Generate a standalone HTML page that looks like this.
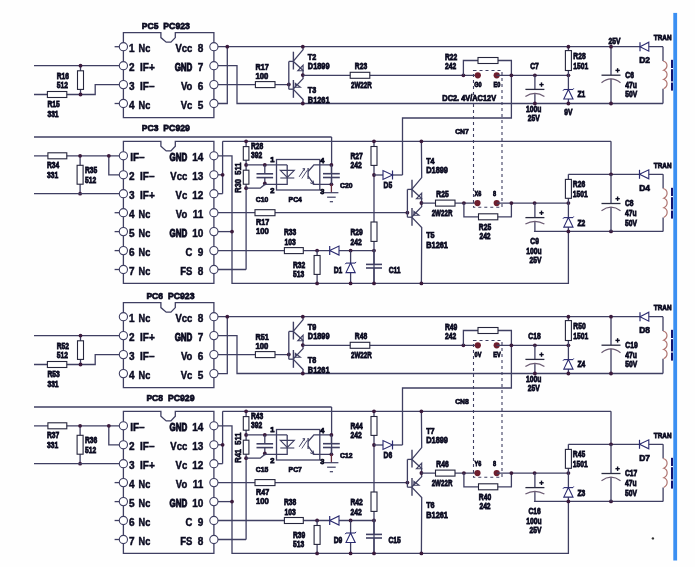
<!DOCTYPE html>
<html><head><meta charset="utf-8"><style>
html,body{margin:0;padding:0;background:#fff;}
svg{display:block;filter:blur(0.3px);}
text{font-family:"Liberation Sans", sans-serif;white-space:pre;}
</style></head><body>
<svg width="695" height="567" viewBox="0 0 695 567">
<rect width="695" height="567" fill="#fefefe"/>
<rect x="473.5" y="70.5" width="28.5" height="136.8" fill="none" stroke="#3f3f62" stroke-width="1.1" stroke-dasharray="3,3"/>
<rect x="473.5" y="340.5" width="28.5" height="136.8" fill="none" stroke="#3f3f62" stroke-width="1.1" stroke-dasharray="3,3"/>
<path d="M123.4,32.7 H160.9 V37.6 L166.2,42.2 H170.9 L175.3,37.6 V32.7 H213.9 V117.6 H123.4 Z" fill="none" stroke="#3f3f62" stroke-width="1.3"/>
<line x1="34.0" y1="65.7" x2="123.4" y2="65.7" stroke="#3f3f62" stroke-width="1.3" />
<line x1="80.5" y1="65.7" x2="80.5" y2="94.5" stroke="#3f3f62" stroke-width="1.3" />
<rect x="77.5" y="70.8" width="6.0" height="18.6" fill="#fff" stroke="#26263c" stroke-width="1.1"/>
<polyline points="34.0,94.5 95.2,94.5 95.2,84.6 123.4,84.6" stroke="#3f3f62" stroke-width="1.3" fill="none" stroke-linejoin="miter" />
<rect x="47.4" y="91.5" width="19.4" height="6.0" fill="#fff" stroke="#26263c" stroke-width="1.1"/>
<circle cx="80.5" cy="65.7" r="1.9" fill="#3a1a3c"/>
<circle cx="80.5" cy="94.5" r="1.9" fill="#3a1a3c"/>
<line x1="114.6" y1="46.7" x2="120.0" y2="46.7" stroke="#3f3f62" stroke-width="1.3" />
<line x1="114.6" y1="103.5" x2="120.0" y2="103.5" stroke="#3f3f62" stroke-width="1.3" />
<line x1="213.9" y1="46.7" x2="663.0" y2="46.7" stroke="#3f3f62" stroke-width="1.3" />
<polyline points="213.9,103.5 227.3,103.5 227.3,46.7" stroke="#3f3f62" stroke-width="1.3" fill="none" stroke-linejoin="miter" />
<circle cx="227.3" cy="46.7" r="1.9" fill="#3a1a3c"/>
<polyline points="213.9,65.7 237.0,65.7 237.0,103.5 663.0,103.5" stroke="#3f3f62" stroke-width="1.3" fill="none" stroke-linejoin="miter" />
<line x1="213.9" y1="84.6" x2="288.8" y2="84.6" stroke="#3f3f62" stroke-width="1.3" />
<rect x="255.4" y="81.6" width="19.6" height="6.0" fill="#fff" stroke="#26263c" stroke-width="1.1"/>
<circle cx="288.8" cy="84.5" r="1.9" fill="#3a1a3c"/>
<line x1="293.4" y1="51.7" x2="293.4" y2="69.5" stroke="#3f3f62" stroke-width="1.4" />
<line x1="288.8" y1="61.4" x2="293.4" y2="61.4" stroke="#3f3f62" stroke-width="1.3" />
<polyline points="293.4,61.2 303.1,49.6 302.8,46.7" stroke="#3f3f62" stroke-width="1.3" fill="none" stroke-linejoin="miter" />
<polyline points="293.4,61.6 303.1,70.6 302.8,75.1" stroke="#3f3f62" stroke-width="1.3" fill="none" stroke-linejoin="miter" />
<polygon points="303.1,65.2 303.1,70.8 297.8,70.8" stroke="#3f3f62" stroke-width="1.1" fill="none" stroke-linejoin="miter" />
<line x1="293.4" y1="80.0" x2="293.4" y2="97.8" stroke="#3f3f62" stroke-width="1.4" />
<line x1="288.8" y1="89.2" x2="293.4" y2="89.2" stroke="#3f3f62" stroke-width="1.3" />
<polyline points="302.8,75.1 303.1,78.6 293.4,88.8" stroke="#3f3f62" stroke-width="1.3" fill="none" stroke-linejoin="miter" />
<polygon points="295.3,83.4 295.3,87.2 300.4,87.2" stroke="#3f3f62" stroke-width="1.1" fill="none" stroke-linejoin="miter" />
<polyline points="293.4,89.4 303.1,99.5 302.8,103.5" stroke="#3f3f62" stroke-width="1.3" fill="none" stroke-linejoin="miter" />
<line x1="288.8" y1="61.4" x2="288.8" y2="89.2" stroke="#3f3f62" stroke-width="1.3" />
<circle cx="302.8" cy="46.7" r="1.9" fill="#3a1a3c"/>
<circle cx="302.8" cy="75.1" r="1.9" fill="#3a1a3c"/>
<circle cx="302.8" cy="103.5" r="1.9" fill="#3a1a3c"/>
<line x1="302.8" y1="75.3" x2="477.8" y2="75.3" stroke="#3f3f62" stroke-width="1.3" />
<rect x="350.2" y="72.3" width="19.6" height="6.0" fill="#fff" stroke="#26263c" stroke-width="1.1"/>
<circle cx="463.4" cy="75.3" r="1.9" fill="#3a1a3c"/>
<polyline points="463.4,75.3 463.4,60.5 511.4,60.5 511.4,118.0 402.5,118.0 402.5,175.0" stroke="#3f3f62" stroke-width="1.3" fill="none" stroke-linejoin="miter" />
<rect x="478.0" y="57.5" width="20.0" height="6.0" fill="#fff" stroke="#26263c" stroke-width="1.1"/>
<circle cx="477.8" cy="75.3" r="3.1" fill="#6e1e2e"/>
<circle cx="496.7" cy="75.3" r="3.1" fill="#6e1e2e"/>
<line x1="496.7" y1="75.3" x2="568.4" y2="75.3" stroke="#3f3f62" stroke-width="1.3" />
<circle cx="511.4" cy="75.3" r="1.9" fill="#3a1a3c"/>
<circle cx="534.9" cy="75.3" r="1.9" fill="#3a1a3c"/>
<circle cx="568.4" cy="75.3" r="1.9" fill="#3a1a3c"/>
<line x1="534.9" y1="75.3" x2="534.9" y2="89.4" stroke="#3f3f62" stroke-width="1.3" />
<line x1="534.9" y1="93.3" x2="534.9" y2="103.5" stroke="#3f3f62" stroke-width="1.3" />
<line x1="525.4" y1="89.4" x2="544.4" y2="89.4" stroke="#2a2a40" stroke-width="1.3" />
<path d="M525.4,96.5 Q534.9,90.1 544.4,96.5" stroke="#6a5a72" stroke-width="1.2" fill="none"/>
<line x1="539.3" y1="84.6" x2="543.7" y2="84.6" stroke="#0a0a20" stroke-width="1.4" />
<line x1="541.5" y1="82.4" x2="541.5" y2="86.8" stroke="#0a0a20" stroke-width="1.4" />
<circle cx="534.9" cy="103.5" r="1.9" fill="#3a1a3c"/>
<line x1="568.4" y1="46.7" x2="568.4" y2="103.5" stroke="#3f3f62" stroke-width="1.3" />
<rect x="565.4" y="50.6" width="6.0" height="19.9" fill="#fff" stroke="#26263c" stroke-width="1.1"/>
<circle cx="568.4" cy="46.7" r="1.9" fill="#3a1a3c"/>
<polygon points="563.8,99.0 573.0,99.0 568.4,89.5" stroke="#2b2b70" stroke-width="1.1" fill="#fff" stroke-linejoin="miter" />
<line x1="563.8" y1="89.5" x2="573.0" y2="89.5" stroke="#2b2b70" stroke-width="1.1" />
<line x1="563.8" y1="89.5" x2="563.0" y2="90.8" stroke="#2b2b70" stroke-width="1.0" />
<line x1="573.0" y1="89.5" x2="573.8" y2="88.3" stroke="#2b2b70" stroke-width="1.0" />
<circle cx="568.4" cy="103.5" r="1.9" fill="#3a1a3c"/>
<line x1="611.0" y1="46.7" x2="611.0" y2="75.2" stroke="#3f3f62" stroke-width="1.3" />
<line x1="611.0" y1="78.8" x2="611.0" y2="103.5" stroke="#3f3f62" stroke-width="1.3" />
<line x1="601.5" y1="75.2" x2="620.5" y2="75.2" stroke="#2a2a40" stroke-width="1.3" />
<path d="M601.5,82.7 Q611.0,74.9 620.5,82.7" stroke="#6a5a72" stroke-width="1.2" fill="none"/>
<line x1="615.4" y1="70.4" x2="619.8" y2="70.4" stroke="#0a0a20" stroke-width="1.4" />
<line x1="617.6" y1="68.2" x2="617.6" y2="72.6" stroke="#0a0a20" stroke-width="1.4" />
<circle cx="611.0" cy="46.7" r="1.9" fill="#3a1a3c"/>
<circle cx="611.0" cy="103.5" r="1.9" fill="#3a1a3c"/>
<polygon points="648.8,42.2 648.8,51.2 640.0,46.7" stroke="#2b2b70" stroke-width="1.1" fill="#fff" stroke-linejoin="miter" />
<line x1="640.0" y1="42.2" x2="640.0" y2="51.2" stroke="#2b2b70" stroke-width="1.2" />
<line x1="663.0" y1="46.7" x2="663.0" y2="61.0" stroke="#3f3f62" stroke-width="1.3" />
<line x1="663.0" y1="88.8" x2="663.0" y2="103.5" stroke="#3f3f62" stroke-width="1.3" />
<path d="M663.0,61.0 C668.2,62.4 668.2,68.0 663.6,70.3 C668.2,71.7 668.2,77.2 663.6,79.5 C668.2,80.9 668.2,86.5 663.6,88.8 " stroke="#b07470" stroke-width="1.2" fill="none"/>
<rect x="671.0" y="59.8" width="2.0" height="8.2" fill="#141470"/>
<rect x="671.0" y="69.2" width="2.0" height="12.2" fill="#141470"/>
<rect x="671.0" y="82.6" width="2.0" height="8.0" fill="#141470"/>
<text x="0" y="0" transform="translate(141.8 29.4) scale(0.9 1)" font-size="9.5" text-anchor="start" fill="#0a0a20" font-weight="bold" stroke="#0a0a20" stroke-width="0.75">PC5</text>
<text x="0" y="0" transform="translate(163.3 29.4) scale(0.92 1)" font-size="9.5" text-anchor="start" fill="#0a0a20" font-weight="bold" stroke="#0a0a20" stroke-width="0.75">PC923</text>
<text x="0" y="0" transform="translate(128.9 51.9) scale(1.0 1)" font-size="10" text-anchor="start" fill="#0a0a20" font-weight="bold" stroke="#0a0a20" stroke-width="0.45">1</text>
<text x="0" y="0" transform="translate(138.6 51.9) scale(0.92 1)" font-size="10" text-anchor="start" fill="#0a0a20" font-weight="bold" stroke="#0a0a20" stroke-width="0.45">Nc</text>
<text x="0" y="0" transform="translate(128.9 70.8) scale(1.0 1)" font-size="10" text-anchor="start" fill="#0a0a20" font-weight="bold" stroke="#0a0a20" stroke-width="0.45">2</text>
<text x="0" y="0" transform="translate(140.0 70.8) scale(1.0 1)" font-size="10" text-anchor="start" fill="#0a0a20" font-weight="bold" stroke="#0a0a20" stroke-width="0.45">IF+</text>
<text x="0" y="0" transform="translate(128.9 89.8) scale(1.0 1)" font-size="10" text-anchor="start" fill="#0a0a20" font-weight="bold" stroke="#0a0a20" stroke-width="0.45">3</text>
<text x="0" y="0" transform="translate(140.0 89.8) scale(1.0 1)" font-size="10" text-anchor="start" fill="#0a0a20" font-weight="bold" stroke="#0a0a20" stroke-width="0.45">IF&#8211;</text>
<text x="0" y="0" transform="translate(128.9 108.7) scale(1.0 1)" font-size="10" text-anchor="start" fill="#0a0a20" font-weight="bold" stroke="#0a0a20" stroke-width="0.45">4</text>
<text x="0" y="0" transform="translate(138.6 108.7) scale(0.92 1)" font-size="10" text-anchor="start" fill="#0a0a20" font-weight="bold" stroke="#0a0a20" stroke-width="0.45">Nc</text>
<text x="0" y="0" transform="translate(203.4 51.9) scale(1.0 1)" font-size="10" text-anchor="end" fill="#0a0a20" font-weight="bold" stroke="#0a0a20" stroke-width="0.45">8</text>
<text x="0" y="0" transform="translate(192.4 51.9) scale(0.95 1)" font-size="10" text-anchor="end" fill="#0a0a20" font-weight="bold" stroke="#0a0a20" stroke-width="0.45">Vcc</text>
<text x="0" y="0" transform="translate(203.4 70.8) scale(1.0 1)" font-size="10" text-anchor="end" fill="#0a0a20" font-weight="bold" stroke="#0a0a20" stroke-width="0.45">7</text>
<text x="0" y="0" transform="translate(192.4 70.8) scale(0.8 1)" font-size="10" text-anchor="end" fill="#0a0a20" font-weight="bold" stroke="#0a0a20" stroke-width="0.9">GND</text>
<text x="0" y="0" transform="translate(203.4 89.8) scale(1.0 1)" font-size="10" text-anchor="end" fill="#0a0a20" font-weight="bold" stroke="#0a0a20" stroke-width="0.45">6</text>
<text x="0" y="0" transform="translate(192.4 89.8) scale(0.95 1)" font-size="10" text-anchor="end" fill="#0a0a20" font-weight="bold" stroke="#0a0a20" stroke-width="0.45">Vo</text>
<text x="0" y="0" transform="translate(203.4 108.7) scale(1.0 1)" font-size="10" text-anchor="end" fill="#0a0a20" font-weight="bold" stroke="#0a0a20" stroke-width="0.45">5</text>
<text x="0" y="0" transform="translate(192.4 108.7) scale(0.95 1)" font-size="10" text-anchor="end" fill="#0a0a20" font-weight="bold" stroke="#0a0a20" stroke-width="0.45">Vc</text>
<text x="0" y="0" transform="translate(56.7 78.6) scale(0.82 1)" font-size="8.2" text-anchor="start" fill="#0a0a20" font-weight="bold" stroke="#0a0a20" stroke-width="0.75">R16</text>
<text x="0" y="0" transform="translate(56.7 88.1) scale(0.82 1)" font-size="8.2" text-anchor="start" fill="#0a0a20" font-weight="bold" stroke="#0a0a20" stroke-width="0.75">512</text>
<text x="0" y="0" transform="translate(47.4 106.8) scale(0.82 1)" font-size="8.2" text-anchor="start" fill="#0a0a20" font-weight="bold" stroke="#0a0a20" stroke-width="0.75">R15</text>
<text x="0" y="0" transform="translate(47.4 116.9) scale(0.82 1)" font-size="8.2" text-anchor="start" fill="#0a0a20" font-weight="bold" stroke="#0a0a20" stroke-width="0.75">331</text>
<text x="0" y="0" transform="translate(255.5 70.1) scale(0.85 1)" font-size="8.5" text-anchor="start" fill="#0a0a20" font-weight="bold" stroke="#0a0a20" stroke-width="0.75">R17</text>
<text x="0" y="0" transform="translate(255.5 78.9) scale(0.9 1)" font-size="8.5" text-anchor="start" fill="#0a0a20" font-weight="bold" stroke="#0a0a20" stroke-width="0.75">100</text>
<text x="0" y="0" transform="translate(307.8 59.9) scale(0.85 1)" font-size="8.5" text-anchor="start" fill="#0a0a20" font-weight="bold" stroke="#0a0a20" stroke-width="0.75">T2</text>
<text x="0" y="0" transform="translate(307.8 69.1) scale(0.87 1)" font-size="8.5" text-anchor="start" fill="#0a0a20" font-weight="bold" stroke="#0a0a20" stroke-width="0.75">D1899</text>
<text x="0" y="0" transform="translate(307.8 93.1) scale(0.85 1)" font-size="8.5" text-anchor="start" fill="#0a0a20" font-weight="bold" stroke="#0a0a20" stroke-width="0.75">T3</text>
<text x="0" y="0" transform="translate(307.8 102.9) scale(0.87 1)" font-size="8.5" text-anchor="start" fill="#0a0a20" font-weight="bold" stroke="#0a0a20" stroke-width="0.75">B1261</text>
<text x="0" y="0" transform="translate(361.0 69.0) scale(0.82 1)" font-size="8.2" text-anchor="middle" fill="#0a0a20" font-weight="bold" stroke="#0a0a20" stroke-width="0.75">R23</text>
<text x="0" y="0" transform="translate(361.3 88.0) scale(0.76 1)" font-size="8.2" text-anchor="middle" fill="#0a0a20" font-weight="bold" stroke="#0a0a20" stroke-width="0.75">2W22R</text>
<text x="0" y="0" transform="translate(445.0 59.7) scale(0.82 1)" font-size="8.2" text-anchor="start" fill="#0a0a20" font-weight="bold" stroke="#0a0a20" stroke-width="0.75">R22</text>
<text x="0" y="0" transform="translate(445.0 69.0) scale(0.82 1)" font-size="8.2" text-anchor="start" fill="#0a0a20" font-weight="bold" stroke="#0a0a20" stroke-width="0.75">242</text>
<text x="0" y="0" transform="translate(478.0 87.3) scale(0.8 1)" font-size="7" text-anchor="middle" fill="#0a0a20" font-weight="bold" stroke="#0a0a20" stroke-width="0.75">G0</text>
<text x="0" y="0" transform="translate(497.0 87.3) scale(0.8 1)" font-size="7" text-anchor="middle" fill="#0a0a20" font-weight="bold" stroke="#0a0a20" stroke-width="0.75">E0</text>
<text x="0" y="0" transform="translate(442.3 101.4) scale(0.88 1)" font-size="8.4" text-anchor="start" fill="#0a0a20" font-weight="bold" stroke="#0a0a20" stroke-width="0.75">DC2. 4V/AC12V</text>
<text x="0" y="0" transform="translate(534.5 68.6) scale(0.82 1)" font-size="8.2" text-anchor="middle" fill="#0a0a20" font-weight="bold" stroke="#0a0a20" stroke-width="0.75">C7</text>
<text x="0" y="0" transform="translate(533.7 111.8) scale(0.82 1)" font-size="8.2" text-anchor="middle" fill="#0a0a20" font-weight="bold" stroke="#0a0a20" stroke-width="0.75">100u</text>
<text x="0" y="0" transform="translate(533.7 121.4) scale(0.82 1)" font-size="8.2" text-anchor="middle" fill="#0a0a20" font-weight="bold" stroke="#0a0a20" stroke-width="0.75">25V</text>
<text x="0" y="0" transform="translate(573.3 59.0) scale(0.82 1)" font-size="8.2" text-anchor="start" fill="#0a0a20" font-weight="bold" stroke="#0a0a20" stroke-width="0.75">R28</text>
<text x="0" y="0" transform="translate(573.3 68.6) scale(0.82 1)" font-size="8.2" text-anchor="start" fill="#0a0a20" font-weight="bold" stroke="#0a0a20" stroke-width="0.75">1501</text>
<text x="0" y="0" transform="translate(577.5 97.3) scale(0.82 1)" font-size="8.2" text-anchor="start" fill="#0a0a20" font-weight="bold" stroke="#0a0a20" stroke-width="0.75">Z1</text>
<text x="0" y="0" transform="translate(568.4 115.0) scale(0.82 1)" font-size="8.2" text-anchor="middle" fill="#0a0a20" font-weight="bold" stroke="#0a0a20" stroke-width="0.75">9V</text>
<text x="0" y="0" transform="translate(614.4 44.2) scale(0.82 1)" font-size="8.2" text-anchor="middle" fill="#0a0a20" font-weight="bold" stroke="#0a0a20" stroke-width="0.75">25V</text>
<text x="0" y="0" transform="translate(625.3 78.2) scale(0.82 1)" font-size="8.2" text-anchor="start" fill="#0a0a20" font-weight="bold" stroke="#0a0a20" stroke-width="0.75">C6</text>
<text x="0" y="0" transform="translate(625.3 87.7) scale(0.82 1)" font-size="8.2" text-anchor="start" fill="#0a0a20" font-weight="bold" stroke="#0a0a20" stroke-width="0.75">47u</text>
<text x="0" y="0" transform="translate(625.3 97.3) scale(0.82 1)" font-size="8.2" text-anchor="start" fill="#0a0a20" font-weight="bold" stroke="#0a0a20" stroke-width="0.75">50V</text>
<text x="0" y="0" transform="translate(644.6 63.4) scale(0.88 1)" font-size="9.6" text-anchor="middle" fill="#0a0a20" font-weight="bold" stroke="#0a0a20" stroke-width="0.75">D2</text>
<text x="0" y="0" transform="translate(653.8 40.1) scale(0.84 1)" font-size="7.6" text-anchor="start" fill="#0a0a20" font-weight="bold" stroke="#0a0a20" stroke-width="0.75">TRAN</text>
<path d="M123.4,141.4 H160.9 V146.3 L166.2,150.9 H170.9 L175.3,146.3 V141.4 H213.9 V283.4 H123.4 Z" fill="none" stroke="#3f3f62" stroke-width="1.3"/>
<line x1="34.0" y1="137.0" x2="331.6" y2="137.0" stroke="#3f3f62" stroke-width="1.3" />
<line x1="331.6" y1="137.0" x2="331.6" y2="184.3" stroke="#3f3f62" stroke-width="1.3" />
<line x1="34.0" y1="155.8" x2="123.4" y2="155.8" stroke="#3f3f62" stroke-width="1.3" />
<rect x="47.9" y="152.8" width="18.9" height="6.0" fill="#fff" stroke="#26263c" stroke-width="1.1"/>
<line x1="80.1" y1="155.8" x2="80.1" y2="193.7" stroke="#3f3f62" stroke-width="1.3" />
<rect x="77.1" y="165.3" width="6.0" height="18.9" fill="#fff" stroke="#26263c" stroke-width="1.1"/>
<circle cx="80.1" cy="155.8" r="1.9" fill="#3a1a3c"/>
<circle cx="80.1" cy="193.7" r="1.9" fill="#3a1a3c"/>
<polyline points="108.8,155.8 108.8,174.8 123.4,174.8" stroke="#3f3f62" stroke-width="1.3" fill="none" stroke-linejoin="miter" />
<circle cx="108.8" cy="155.8" r="1.9" fill="#3a1a3c"/>
<line x1="34.0" y1="193.7" x2="123.4" y2="193.7" stroke="#3f3f62" stroke-width="1.3" />
<line x1="114.6" y1="212.7" x2="120.0" y2="212.7" stroke="#3f3f62" stroke-width="1.3" />
<line x1="114.6" y1="231.6" x2="120.0" y2="231.6" stroke="#3f3f62" stroke-width="1.3" />
<line x1="114.6" y1="250.6" x2="120.0" y2="250.6" stroke="#3f3f62" stroke-width="1.3" />
<line x1="114.6" y1="269.5" x2="120.0" y2="269.5" stroke="#3f3f62" stroke-width="1.3" />
<polyline points="213.9,155.8 232.0,155.8 232.0,283.4 568.4,283.4 568.4,231.4" stroke="#3f3f62" stroke-width="1.3" fill="none" stroke-linejoin="miter" />
<line x1="213.9" y1="231.6" x2="232.0" y2="231.6" stroke="#3f3f62" stroke-width="1.3" />
<circle cx="232.0" cy="231.6" r="1.9" fill="#3a1a3c"/>
<line x1="222.6" y1="141.3" x2="222.6" y2="193.7" stroke="#3f3f62" stroke-width="1.3" />
<line x1="213.9" y1="174.8" x2="222.6" y2="174.8" stroke="#3f3f62" stroke-width="1.3" />
<circle cx="222.6" cy="174.8" r="1.9" fill="#3a1a3c"/>
<line x1="213.9" y1="193.7" x2="222.6" y2="193.7" stroke="#3f3f62" stroke-width="1.3" />
<line x1="222.6" y1="141.3" x2="611.0" y2="141.3" stroke="#3f3f62" stroke-width="1.3" />
<line x1="611.0" y1="141.3" x2="611.0" y2="174.3" stroke="#3f3f62" stroke-width="1.3" />
<line x1="246.1" y1="141.3" x2="246.1" y2="269.5" stroke="#3f3f62" stroke-width="1.3" />
<line x1="213.9" y1="269.5" x2="246.1" y2="269.5" stroke="#3f3f62" stroke-width="1.3" />
<rect x="243.3" y="146.6" width="5.6" height="13.6" fill="#fff" stroke="#26263c" stroke-width="1.1"/>
<rect x="243.3" y="170.2" width="5.6" height="14.0" fill="#fff" stroke="#26263c" stroke-width="1.1"/>
<circle cx="246.1" cy="141.3" r="1.9" fill="#3a1a3c"/>
<circle cx="246.1" cy="164.9" r="1.9" fill="#3a1a3c"/>
<circle cx="246.1" cy="188.2" r="1.9" fill="#3a1a3c"/>
<line x1="246.1" y1="164.9" x2="287.2" y2="164.9" stroke="#3f3f62" stroke-width="1.3" />
<circle cx="264.8" cy="164.9" r="1.9" fill="#3a1a3c"/>
<line x1="264.8" y1="164.9" x2="264.8" y2="173.8" stroke="#3f3f62" stroke-width="1.3" />
<line x1="264.8" y1="177.6" x2="264.8" y2="183.4" stroke="#3f3f62" stroke-width="1.3" />
<line x1="256.5" y1="173.8" x2="273.1" y2="173.8" stroke="#3f3f62" stroke-width="1.6" />
<line x1="256.5" y1="177.6" x2="273.1" y2="177.6" stroke="#3f3f62" stroke-width="1.6" />
<circle cx="264.8" cy="183.4" r="1.9" fill="#3a1a3c"/>
<polyline points="246.1,188.2 260.2,188.2 264.8,184.4 287.2,184.4 287.2,164.9" stroke="#3f3f62" stroke-width="1.3" fill="none" stroke-linejoin="miter" />
<rect x="276.5" y="159.5" width="43.3" height="30.5" fill="none" stroke="#3f3f62" stroke-width="1.3"/>
<polygon points="280.3,170.4 294.3,170.4 287.3,177.4" stroke="#3f3f62" stroke-width="1.1" fill="none" stroke-linejoin="miter" />
<line x1="280.3" y1="178.0" x2="294.3" y2="178.0" stroke="#3f3f62" stroke-width="1.1" />
<line x1="299.2" y1="176.8" x2="304.6" y2="168.6" stroke="#3f3f62" stroke-width="1.0" />
<line x1="301.8" y1="178.5" x2="307.2" y2="170.3" stroke="#3f3f62" stroke-width="0.9" />
<polyline points="302.6,168.8 304.6,168.6 304.3,170.6" stroke="#3f3f62" stroke-width="1.0" fill="none" stroke-linejoin="miter" />
<line x1="308.1" y1="168.1" x2="308.1" y2="179.1" stroke="#3f3f62" stroke-width="1.3" />
<polyline points="308.1,171.5 313.9,164.9 331.4,164.9" stroke="#3f3f62" stroke-width="1.3" fill="none" stroke-linejoin="miter" />
<polyline points="308.1,176.0 313.9,184.3 331.4,184.3" stroke="#3f3f62" stroke-width="1.3" fill="none" stroke-linejoin="miter" />
<polyline points="310.2,182.8 313.9,184.3 313.1,180.5" stroke="#3f3f62" stroke-width="1.0" fill="none" stroke-linejoin="miter" />
<circle cx="331.4" cy="164.9" r="1.9" fill="#3a1a3c"/>
<circle cx="331.4" cy="184.3" r="1.9" fill="#3a1a3c"/>
<line x1="331.4" y1="164.9" x2="331.4" y2="173.7" stroke="#3f3f62" stroke-width="1.3" />
<line x1="331.4" y1="177.5" x2="331.4" y2="184.3" stroke="#3f3f62" stroke-width="1.3" />
<line x1="323.0" y1="173.7" x2="339.8" y2="173.7" stroke="#3f3f62" stroke-width="1.6" />
<line x1="323.0" y1="177.5" x2="339.8" y2="177.5" stroke="#3f3f62" stroke-width="1.6" />
<line x1="331.4" y1="184.3" x2="331.4" y2="192.7" stroke="#6a3040" stroke-width="1.3" />
<line x1="324.4" y1="192.7" x2="338.4" y2="192.7" stroke="#3f3f62" stroke-width="1.2" />
<line x1="327.1" y1="197.2" x2="335.7" y2="197.2" stroke="#3f3f62" stroke-width="1.2" />
<line x1="329.8" y1="201.7" x2="333.0" y2="201.7" stroke="#3f3f62" stroke-width="1.2" />
<line x1="213.9" y1="212.7" x2="407.4" y2="212.7" stroke="#3f3f62" stroke-width="1.3" />
<rect x="255.0" y="209.7" width="20.0" height="6.0" fill="#fff" stroke="#26263c" stroke-width="1.1"/>
<circle cx="407.4" cy="212.7" r="1.9" fill="#3a1a3c"/>
<line x1="213.9" y1="250.6" x2="374.0" y2="250.6" stroke="#3f3f62" stroke-width="1.3" />
<rect x="284.4" y="247.6" width="18.9" height="6.0" fill="#fff" stroke="#26263c" stroke-width="1.1"/>
<circle cx="317.1" cy="250.6" r="1.9" fill="#3a1a3c"/>
<circle cx="350.6" cy="250.6" r="1.9" fill="#3a1a3c"/>
<circle cx="374.0" cy="250.6" r="1.9" fill="#3a1a3c"/>
<polygon points="339.0,246.1 339.0,255.1 329.7,250.6" stroke="#2b2b70" stroke-width="1.1" fill="#fff" stroke-linejoin="miter" />
<line x1="329.7" y1="246.1" x2="329.7" y2="255.1" stroke="#2b2b70" stroke-width="1.2" />
<line x1="317.1" y1="250.6" x2="317.1" y2="283.4" stroke="#3f3f62" stroke-width="1.3" />
<rect x="314.1" y="255.5" width="6.0" height="18.9" fill="#fff" stroke="#26263c" stroke-width="1.1"/>
<line x1="350.6" y1="250.6" x2="350.6" y2="283.4" stroke="#3f3f62" stroke-width="1.3" />
<polygon points="346.0,272.6 355.2,272.6 350.6,263.1" stroke="#2b2b70" stroke-width="1.1" fill="#fff" stroke-linejoin="miter" />
<line x1="346.0" y1="263.1" x2="355.2" y2="263.1" stroke="#2b2b70" stroke-width="1.1" />
<line x1="346.0" y1="263.1" x2="345.2" y2="264.2" stroke="#2b2b70" stroke-width="1.0" />
<line x1="355.2" y1="263.1" x2="356.0" y2="261.9" stroke="#2b2b70" stroke-width="1.0" />
<circle cx="317.1" cy="283.4" r="1.9" fill="#3a1a3c"/>
<circle cx="350.6" cy="283.4" r="1.9" fill="#3a1a3c"/>
<line x1="374.0" y1="141.3" x2="374.0" y2="283.4" stroke="#3f3f62" stroke-width="1.3" />
<rect x="371.0" y="146.5" width="6.0" height="18.9" fill="#fff" stroke="#26263c" stroke-width="1.1"/>
<rect x="371.0" y="222.0" width="6.0" height="19.4" fill="#fff" stroke="#26263c" stroke-width="1.1"/>
<line x1="374.0" y1="250.1" x2="374.0" y2="264.4" stroke="#3f3f62" stroke-width="1.3" />
<line x1="374.0" y1="268.0" x2="374.0" y2="283.4" stroke="#3f3f62" stroke-width="1.3" />
<line x1="366.0" y1="264.4" x2="382.0" y2="264.4" stroke="#3f3f62" stroke-width="1.6" />
<line x1="366.0" y1="268.0" x2="382.0" y2="268.0" stroke="#3f3f62" stroke-width="1.6" />
<circle cx="374.0" cy="141.3" r="1.9" fill="#3a1a3c"/>
<circle cx="374.0" cy="175.0" r="1.9" fill="#3a1a3c"/>
<circle cx="374.0" cy="283.4" r="1.9" fill="#3a1a3c"/>
<polyline points="374.0,175.0 402.5,175.0" stroke="#3f3f62" stroke-width="1.3" fill="none" stroke-linejoin="miter" />
<polygon points="383.0,170.5 383.0,179.5 392.5,175.0" stroke="#2b2b70" stroke-width="1.1" fill="#fff" stroke-linejoin="miter" />
<line x1="392.5" y1="170.5" x2="392.5" y2="179.5" stroke="#2b2b70" stroke-width="1.2" />
<line x1="412.0" y1="179.7" x2="412.0" y2="197.5" stroke="#3f3f62" stroke-width="1.4" />
<line x1="407.4" y1="189.4" x2="412.0" y2="189.4" stroke="#3f3f62" stroke-width="1.3" />
<polyline points="412.0,189.2 421.7,177.6 421.4,141.3" stroke="#3f3f62" stroke-width="1.3" fill="none" stroke-linejoin="miter" />
<polyline points="412.0,189.6 421.7,198.6 421.4,203.1" stroke="#3f3f62" stroke-width="1.3" fill="none" stroke-linejoin="miter" />
<polygon points="421.7,193.2 421.7,198.8 416.4,198.8" stroke="#3f3f62" stroke-width="1.1" fill="none" stroke-linejoin="miter" />
<line x1="412.0" y1="208.0" x2="412.0" y2="225.8" stroke="#3f3f62" stroke-width="1.4" />
<line x1="407.4" y1="217.2" x2="412.0" y2="217.2" stroke="#3f3f62" stroke-width="1.3" />
<polyline points="421.4,203.1 421.7,206.6 412.0,216.8" stroke="#3f3f62" stroke-width="1.3" fill="none" stroke-linejoin="miter" />
<polygon points="413.9,211.4 413.9,215.2 419.0,215.2" stroke="#3f3f62" stroke-width="1.1" fill="none" stroke-linejoin="miter" />
<polyline points="412.0,217.4 421.7,227.5 421.4,283.4" stroke="#3f3f62" stroke-width="1.3" fill="none" stroke-linejoin="miter" />
<line x1="407.4" y1="189.4" x2="407.4" y2="217.2" stroke="#3f3f62" stroke-width="1.3" />
<circle cx="421.4" cy="141.3" r="1.9" fill="#3a1a3c"/>
<circle cx="421.4" cy="203.0" r="1.9" fill="#3a1a3c"/>
<circle cx="421.4" cy="283.4" r="1.9" fill="#3a1a3c"/>
<line x1="421.4" y1="203.1" x2="477.5" y2="203.1" stroke="#3f3f62" stroke-width="1.3" />
<rect x="435.5" y="200.1" width="19.5" height="6.0" fill="#fff" stroke="#26263c" stroke-width="1.1"/>
<circle cx="463.9" cy="203.1" r="1.9" fill="#3a1a3c"/>
<polyline points="463.9,203.1 463.9,216.8 511.4,216.8 511.4,203.1" stroke="#3f3f62" stroke-width="1.3" fill="none" stroke-linejoin="miter" />
<rect x="478.5" y="213.8" width="19.3" height="6.0" fill="#fff" stroke="#26263c" stroke-width="1.1"/>
<circle cx="477.5" cy="203.1" r="3.1" fill="#6e1e2e"/>
<circle cx="496.7" cy="203.1" r="3.1" fill="#6e1e2e"/>
<line x1="496.7" y1="203.1" x2="568.4" y2="203.1" stroke="#3f3f62" stroke-width="1.3" />
<circle cx="511.4" cy="203.1" r="1.9" fill="#3a1a3c"/>
<circle cx="534.6" cy="203.1" r="1.9" fill="#3a1a3c"/>
<circle cx="568.4" cy="203.1" r="1.9" fill="#3a1a3c"/>
<line x1="534.9" y1="203.1" x2="534.9" y2="217.6" stroke="#3f3f62" stroke-width="1.3" />
<line x1="534.9" y1="221.3" x2="534.9" y2="231.4" stroke="#3f3f62" stroke-width="1.3" />
<line x1="525.4" y1="217.6" x2="544.4" y2="217.6" stroke="#2a2a40" stroke-width="1.3" />
<path d="M525.4,224.1 Q534.9,218.5 544.4,224.1" stroke="#6a5a72" stroke-width="1.2" fill="none"/>
<line x1="539.3" y1="212.8" x2="543.7" y2="212.8" stroke="#0a0a20" stroke-width="1.4" />
<line x1="541.5" y1="210.6" x2="541.5" y2="215.0" stroke="#0a0a20" stroke-width="1.4" />
<polyline points="534.6,231.0 534.6,231.4 663.1,231.4" stroke="#3f3f62" stroke-width="1.3" fill="none" stroke-linejoin="miter" />
<line x1="568.4" y1="174.3" x2="568.4" y2="231.4" stroke="#3f3f62" stroke-width="1.3" />
<rect x="565.4" y="179.4" width="6.0" height="18.9" fill="#fff" stroke="#26263c" stroke-width="1.1"/>
<polygon points="563.8,227.1 573.0,227.1 568.4,217.6" stroke="#2b2b70" stroke-width="1.1" fill="#fff" stroke-linejoin="miter" />
<line x1="563.8" y1="217.6" x2="573.0" y2="217.6" stroke="#2b2b70" stroke-width="1.1" />
<line x1="563.8" y1="217.6" x2="563.0" y2="218.8" stroke="#2b2b70" stroke-width="1.0" />
<line x1="573.0" y1="217.6" x2="573.8" y2="216.4" stroke="#2b2b70" stroke-width="1.0" />
<circle cx="568.4" cy="231.4" r="1.9" fill="#3a1a3c"/>
<line x1="568.4" y1="174.3" x2="663.1" y2="174.3" stroke="#3f3f62" stroke-width="1.3" />
<circle cx="611.0" cy="174.3" r="1.9" fill="#3a1a3c"/>
<circle cx="611.0" cy="231.4" r="1.9" fill="#3a1a3c"/>
<line x1="611.0" y1="174.3" x2="611.0" y2="203.5" stroke="#3f3f62" stroke-width="1.3" />
<line x1="611.0" y1="207.1" x2="611.0" y2="231.4" stroke="#3f3f62" stroke-width="1.3" />
<line x1="601.5" y1="203.5" x2="620.5" y2="203.5" stroke="#2a2a40" stroke-width="1.3" />
<path d="M601.5,210.7 Q611.0,203.5 620.5,210.7" stroke="#6a5a72" stroke-width="1.2" fill="none"/>
<line x1="615.4" y1="198.7" x2="619.8" y2="198.7" stroke="#0a0a20" stroke-width="1.4" />
<line x1="617.6" y1="196.5" x2="617.6" y2="200.9" stroke="#0a0a20" stroke-width="1.4" />
<polygon points="648.8,169.8 648.8,178.8 639.5,174.3" stroke="#2b2b70" stroke-width="1.1" fill="#fff" stroke-linejoin="miter" />
<line x1="639.5" y1="169.8" x2="639.5" y2="178.8" stroke="#2b2b70" stroke-width="1.2" />
<line x1="663.1" y1="174.3" x2="663.1" y2="188.5" stroke="#3f3f62" stroke-width="1.3" />
<line x1="663.1" y1="217.5" x2="663.1" y2="231.4" stroke="#3f3f62" stroke-width="1.3" />
<path d="M663.1,188.5 C668.3,189.9 668.3,195.8 663.7,198.2 C668.3,199.6 668.3,205.4 663.7,207.8 C668.3,209.3 668.3,215.1 663.7,217.5 " stroke="#b07470" stroke-width="1.2" fill="none"/>
<rect x="671.0" y="187.8" width="2.0" height="8.2" fill="#141470"/>
<rect x="671.0" y="197.2" width="2.0" height="12.2" fill="#141470"/>
<rect x="671.0" y="210.6" width="2.0" height="8.0" fill="#141470"/>
<text x="0" y="0" transform="translate(141.8 130.7) scale(0.9 1)" font-size="9.5" text-anchor="start" fill="#0a0a20" font-weight="bold" stroke="#0a0a20" stroke-width="0.75">PC3</text>
<text x="0" y="0" transform="translate(163.3 130.7) scale(0.92 1)" font-size="9.5" text-anchor="start" fill="#0a0a20" font-weight="bold" stroke="#0a0a20" stroke-width="0.75">PC929</text>
<text x="0" y="0" transform="translate(130.2 161.0) scale(1.0 1)" font-size="10" text-anchor="start" fill="#0a0a20" font-weight="bold" stroke="#0a0a20" stroke-width="0.45">IF&#8211;</text>
<text x="0" y="0" transform="translate(128.9 179.9) scale(1.0 1)" font-size="10" text-anchor="start" fill="#0a0a20" font-weight="bold" stroke="#0a0a20" stroke-width="0.45">2</text>
<text x="0" y="0" transform="translate(140.0 179.9) scale(1.0 1)" font-size="10" text-anchor="start" fill="#0a0a20" font-weight="bold" stroke="#0a0a20" stroke-width="0.45">IF&#8211;</text>
<text x="0" y="0" transform="translate(128.9 198.9) scale(1.0 1)" font-size="10" text-anchor="start" fill="#0a0a20" font-weight="bold" stroke="#0a0a20" stroke-width="0.45">3</text>
<text x="0" y="0" transform="translate(140.0 198.9) scale(1.0 1)" font-size="10" text-anchor="start" fill="#0a0a20" font-weight="bold" stroke="#0a0a20" stroke-width="0.45">IF+</text>
<text x="0" y="0" transform="translate(128.9 217.8) scale(1.0 1)" font-size="10" text-anchor="start" fill="#0a0a20" font-weight="bold" stroke="#0a0a20" stroke-width="0.45">4</text>
<text x="0" y="0" transform="translate(138.6 217.8) scale(0.92 1)" font-size="10" text-anchor="start" fill="#0a0a20" font-weight="bold" stroke="#0a0a20" stroke-width="0.45">Nc</text>
<text x="0" y="0" transform="translate(128.9 236.8) scale(1.0 1)" font-size="10" text-anchor="start" fill="#0a0a20" font-weight="bold" stroke="#0a0a20" stroke-width="0.45">5</text>
<text x="0" y="0" transform="translate(138.6 236.8) scale(0.92 1)" font-size="10" text-anchor="start" fill="#0a0a20" font-weight="bold" stroke="#0a0a20" stroke-width="0.45">Nc</text>
<text x="0" y="0" transform="translate(128.9 255.8) scale(1.0 1)" font-size="10" text-anchor="start" fill="#0a0a20" font-weight="bold" stroke="#0a0a20" stroke-width="0.45">6</text>
<text x="0" y="0" transform="translate(138.6 255.8) scale(0.92 1)" font-size="10" text-anchor="start" fill="#0a0a20" font-weight="bold" stroke="#0a0a20" stroke-width="0.45">Nc</text>
<text x="0" y="0" transform="translate(128.9 274.7) scale(1.0 1)" font-size="10" text-anchor="start" fill="#0a0a20" font-weight="bold" stroke="#0a0a20" stroke-width="0.45">7</text>
<text x="0" y="0" transform="translate(138.6 274.7) scale(0.92 1)" font-size="10" text-anchor="start" fill="#0a0a20" font-weight="bold" stroke="#0a0a20" stroke-width="0.45">Nc</text>
<text x="0" y="0" transform="translate(203.4 161.0) scale(1.0 1)" font-size="10" text-anchor="end" fill="#0a0a20" font-weight="bold" stroke="#0a0a20" stroke-width="0.45">14</text>
<text x="0" y="0" transform="translate(187.2 161.0) scale(0.8 1)" font-size="10" text-anchor="end" fill="#0a0a20" font-weight="bold" stroke="#0a0a20" stroke-width="0.9">GND</text>
<text x="0" y="0" transform="translate(203.4 179.9) scale(1.0 1)" font-size="10" text-anchor="end" fill="#0a0a20" font-weight="bold" stroke="#0a0a20" stroke-width="0.45">13</text>
<text x="0" y="0" transform="translate(187.2 179.9) scale(0.95 1)" font-size="10" text-anchor="end" fill="#0a0a20" font-weight="bold" stroke="#0a0a20" stroke-width="0.45">Vcc</text>
<text x="0" y="0" transform="translate(203.4 198.9) scale(1.0 1)" font-size="10" text-anchor="end" fill="#0a0a20" font-weight="bold" stroke="#0a0a20" stroke-width="0.45">12</text>
<text x="0" y="0" transform="translate(187.2 198.9) scale(0.95 1)" font-size="10" text-anchor="end" fill="#0a0a20" font-weight="bold" stroke="#0a0a20" stroke-width="0.45">Vc</text>
<text x="0" y="0" transform="translate(203.4 217.8) scale(1.0 1)" font-size="10" text-anchor="end" fill="#0a0a20" font-weight="bold" stroke="#0a0a20" stroke-width="0.45">11</text>
<text x="0" y="0" transform="translate(187.2 217.8) scale(0.95 1)" font-size="10" text-anchor="end" fill="#0a0a20" font-weight="bold" stroke="#0a0a20" stroke-width="0.45">Vo</text>
<text x="0" y="0" transform="translate(203.4 236.8) scale(1.0 1)" font-size="10" text-anchor="end" fill="#0a0a20" font-weight="bold" stroke="#0a0a20" stroke-width="0.45">10</text>
<text x="0" y="0" transform="translate(187.2 236.8) scale(0.8 1)" font-size="10" text-anchor="end" fill="#0a0a20" font-weight="bold" stroke="#0a0a20" stroke-width="0.9">GND</text>
<text x="0" y="0" transform="translate(203.4 255.8) scale(1.0 1)" font-size="10" text-anchor="end" fill="#0a0a20" font-weight="bold" stroke="#0a0a20" stroke-width="0.45">9</text>
<text x="0" y="0" transform="translate(192.4 255.8) scale(0.95 1)" font-size="10" text-anchor="end" fill="#0a0a20" font-weight="bold" stroke="#0a0a20" stroke-width="0.45">C</text>
<text x="0" y="0" transform="translate(203.4 274.7) scale(1.0 1)" font-size="10" text-anchor="end" fill="#0a0a20" font-weight="bold" stroke="#0a0a20" stroke-width="0.45">8</text>
<text x="0" y="0" transform="translate(192.4 274.7) scale(0.95 1)" font-size="10" text-anchor="end" fill="#0a0a20" font-weight="bold" stroke="#0a0a20" stroke-width="0.45">FS</text>
<text x="0" y="0" transform="translate(47.0 168.3) scale(0.82 1)" font-size="8.2" text-anchor="start" fill="#0a0a20" font-weight="bold" stroke="#0a0a20" stroke-width="0.75">R34</text>
<text x="0" y="0" transform="translate(47.0 178.0) scale(0.82 1)" font-size="8.2" text-anchor="start" fill="#0a0a20" font-weight="bold" stroke="#0a0a20" stroke-width="0.75">331</text>
<text x="0" y="0" transform="translate(85.0 173.4) scale(0.82 1)" font-size="8.2" text-anchor="start" fill="#0a0a20" font-weight="bold" stroke="#0a0a20" stroke-width="0.75">R35</text>
<text x="0" y="0" transform="translate(85.0 183.0) scale(0.82 1)" font-size="8.2" text-anchor="start" fill="#0a0a20" font-weight="bold" stroke="#0a0a20" stroke-width="0.75">512</text>
<text x="0" y="0" transform="translate(251.0 149.4) scale(0.82 1)" font-size="8.2" text-anchor="start" fill="#0a0a20" font-weight="bold" stroke="#0a0a20" stroke-width="0.75">R28</text>
<text x="0" y="0" transform="translate(251.0 158.3) scale(0.82 1)" font-size="8.2" text-anchor="start" fill="#0a0a20" font-weight="bold" stroke="#0a0a20" stroke-width="0.75">392</text>
<text transform="translate(240.9 192.8) rotate(-90) scale(0.9 1)" font-size="8.4" fill="#0a0a20" font-weight="bold" stroke="#0a0a20" stroke-width="0.6">R30  511</text>
<text x="0" y="0" transform="translate(272.3 162.3) scale(1.0 1)" font-size="7.5" text-anchor="middle" fill="#0a0a20" font-weight="bold" stroke="#0a0a20" stroke-width="0.75">1</text>
<text x="0" y="0" transform="translate(272.3 192.5) scale(1.0 1)" font-size="7.5" text-anchor="middle" fill="#0a0a20" font-weight="bold" stroke="#0a0a20" stroke-width="0.75">2</text>
<text x="0" y="0" transform="translate(322.4 163.1) scale(1.0 1)" font-size="7.5" text-anchor="middle" fill="#0a0a20" font-weight="bold" stroke="#0a0a20" stroke-width="0.75">4</text>
<text x="0" y="0" transform="translate(322.4 193.5) scale(1.0 1)" font-size="7.5" text-anchor="middle" fill="#0a0a20" font-weight="bold" stroke="#0a0a20" stroke-width="0.75">3</text>
<text x="0" y="0" transform="translate(262.0 201.9) scale(0.85 1)" font-size="8" text-anchor="middle" fill="#0a0a20" font-weight="bold" stroke="#0a0a20" stroke-width="0.75">C10</text>
<text x="0" y="0" transform="translate(295.2 201.9) scale(0.85 1)" font-size="8" text-anchor="middle" fill="#0a0a20" font-weight="bold" stroke="#0a0a20" stroke-width="0.75">PC4</text>
<text x="0" y="0" transform="translate(340.0 187.5) scale(0.85 1)" font-size="8" text-anchor="start" fill="#0a0a20" font-weight="bold" stroke="#0a0a20" stroke-width="0.75">C20</text>
<text x="0" y="0" transform="translate(256.0 225.3) scale(0.85 1)" font-size="8.5" text-anchor="start" fill="#0a0a20" font-weight="bold" stroke="#0a0a20" stroke-width="0.75">R17</text>
<text x="0" y="0" transform="translate(256.0 234.1) scale(0.9 1)" font-size="8.5" text-anchor="start" fill="#0a0a20" font-weight="bold" stroke="#0a0a20" stroke-width="0.75">100</text>
<text x="0" y="0" transform="translate(284.0 234.6) scale(0.82 1)" font-size="8.2" text-anchor="start" fill="#0a0a20" font-weight="bold" stroke="#0a0a20" stroke-width="0.75">R33</text>
<text x="0" y="0" transform="translate(284.5 244.6) scale(0.82 1)" font-size="8.2" text-anchor="start" fill="#0a0a20" font-weight="bold" stroke="#0a0a20" stroke-width="0.75">103</text>
<text x="0" y="0" transform="translate(293.0 268.0) scale(0.82 1)" font-size="8.2" text-anchor="start" fill="#0a0a20" font-weight="bold" stroke="#0a0a20" stroke-width="0.75">R32</text>
<text x="0" y="0" transform="translate(293.0 276.9) scale(0.82 1)" font-size="8.2" text-anchor="start" fill="#0a0a20" font-weight="bold" stroke="#0a0a20" stroke-width="0.75">513</text>
<text x="0" y="0" transform="translate(338.0 273.0) scale(0.82 1)" font-size="8.2" text-anchor="middle" fill="#0a0a20" font-weight="bold" stroke="#0a0a20" stroke-width="0.75">D1</text>
<text x="0" y="0" transform="translate(350.5 234.6) scale(0.82 1)" font-size="8.2" text-anchor="start" fill="#0a0a20" font-weight="bold" stroke="#0a0a20" stroke-width="0.75">R29</text>
<text x="0" y="0" transform="translate(350.5 244.6) scale(0.82 1)" font-size="8.2" text-anchor="start" fill="#0a0a20" font-weight="bold" stroke="#0a0a20" stroke-width="0.75">242</text>
<text x="0" y="0" transform="translate(350.5 158.8) scale(0.82 1)" font-size="8.2" text-anchor="start" fill="#0a0a20" font-weight="bold" stroke="#0a0a20" stroke-width="0.75">R27</text>
<text x="0" y="0" transform="translate(350.5 168.0) scale(0.82 1)" font-size="8.2" text-anchor="start" fill="#0a0a20" font-weight="bold" stroke="#0a0a20" stroke-width="0.75">242</text>
<text x="0" y="0" transform="translate(387.9 187.8) scale(0.82 1)" font-size="8.2" text-anchor="middle" fill="#0a0a20" font-weight="bold" stroke="#0a0a20" stroke-width="0.75">D5</text>
<text x="0" y="0" transform="translate(394.6 272.6) scale(0.82 1)" font-size="8.2" text-anchor="middle" fill="#0a0a20" font-weight="bold" stroke="#0a0a20" stroke-width="0.75">C11</text>
<text x="0" y="0" transform="translate(426.2 163.5) scale(0.85 1)" font-size="8.5" text-anchor="start" fill="#0a0a20" font-weight="bold" stroke="#0a0a20" stroke-width="0.75">T4</text>
<text x="0" y="0" transform="translate(426.2 173.1) scale(0.87 1)" font-size="8.5" text-anchor="start" fill="#0a0a20" font-weight="bold" stroke="#0a0a20" stroke-width="0.75">D1899</text>
<text x="0" y="0" transform="translate(426.2 238.3) scale(0.85 1)" font-size="8.5" text-anchor="start" fill="#0a0a20" font-weight="bold" stroke="#0a0a20" stroke-width="0.75">T5</text>
<text x="0" y="0" transform="translate(426.2 248.3) scale(0.87 1)" font-size="8.5" text-anchor="start" fill="#0a0a20" font-weight="bold" stroke="#0a0a20" stroke-width="0.75">B1261</text>
<text x="0" y="0" transform="translate(442.5 196.9) scale(0.82 1)" font-size="8.2" text-anchor="middle" fill="#0a0a20" font-weight="bold" stroke="#0a0a20" stroke-width="0.75">R25</text>
<text x="0" y="0" transform="translate(442.0 216.3) scale(0.76 1)" font-size="8.2" text-anchor="middle" fill="#0a0a20" font-weight="bold" stroke="#0a0a20" stroke-width="0.75">2W22R</text>
<text x="0" y="0" transform="translate(478.0 196.4) scale(0.8 1)" font-size="7" text-anchor="middle" fill="#0a0a20" font-weight="bold" stroke="#0a0a20" stroke-width="0.75">X6</text>
<text x="0" y="0" transform="translate(494.5 196.4) scale(0.8 1)" font-size="7" text-anchor="middle" fill="#0a0a20" font-weight="bold" stroke="#0a0a20" stroke-width="0.75">8</text>
<text x="0" y="0" transform="translate(485.0 230.0) scale(0.82 1)" font-size="8.2" text-anchor="middle" fill="#0a0a20" font-weight="bold" stroke="#0a0a20" stroke-width="0.75">R25</text>
<text x="0" y="0" transform="translate(485.0 239.0) scale(0.82 1)" font-size="8.2" text-anchor="middle" fill="#0a0a20" font-weight="bold" stroke="#0a0a20" stroke-width="0.75">242</text>
<text x="0" y="0" transform="translate(462.0 133.6) scale(0.85 1)" font-size="8" text-anchor="middle" fill="#0a0a20" font-weight="bold" stroke="#0a0a20" stroke-width="0.75">CN7</text>
<text x="0" y="0" transform="translate(534.6 243.7) scale(0.82 1)" font-size="8.2" text-anchor="middle" fill="#0a0a20" font-weight="bold" stroke="#0a0a20" stroke-width="0.75">C9</text>
<text x="0" y="0" transform="translate(534.0 254.4) scale(0.82 1)" font-size="8.2" text-anchor="middle" fill="#0a0a20" font-weight="bold" stroke="#0a0a20" stroke-width="0.75">100u</text>
<text x="0" y="0" transform="translate(535.5 263.4) scale(0.82 1)" font-size="8.2" text-anchor="middle" fill="#0a0a20" font-weight="bold" stroke="#0a0a20" stroke-width="0.75">25V</text>
<text x="0" y="0" transform="translate(572.8 186.6) scale(0.82 1)" font-size="8.2" text-anchor="start" fill="#0a0a20" font-weight="bold" stroke="#0a0a20" stroke-width="0.75">R26</text>
<text x="0" y="0" transform="translate(572.8 196.5) scale(0.82 1)" font-size="8.2" text-anchor="start" fill="#0a0a20" font-weight="bold" stroke="#0a0a20" stroke-width="0.75">1501</text>
<text x="0" y="0" transform="translate(577.5 225.6) scale(0.82 1)" font-size="8.2" text-anchor="start" fill="#0a0a20" font-weight="bold" stroke="#0a0a20" stroke-width="0.75">Z2</text>
<text x="0" y="0" transform="translate(625.0 205.8) scale(0.82 1)" font-size="8.2" text-anchor="start" fill="#0a0a20" font-weight="bold" stroke="#0a0a20" stroke-width="0.75">C8</text>
<text x="0" y="0" transform="translate(625.0 216.3) scale(0.82 1)" font-size="8.2" text-anchor="start" fill="#0a0a20" font-weight="bold" stroke="#0a0a20" stroke-width="0.75">47u</text>
<text x="0" y="0" transform="translate(625.0 225.6) scale(0.82 1)" font-size="8.2" text-anchor="start" fill="#0a0a20" font-weight="bold" stroke="#0a0a20" stroke-width="0.75">50V</text>
<text x="0" y="0" transform="translate(644.6 191.4) scale(0.88 1)" font-size="9.6" text-anchor="middle" fill="#0a0a20" font-weight="bold" stroke="#0a0a20" stroke-width="0.75">D4</text>
<text x="0" y="0" transform="translate(653.8 168.0) scale(0.84 1)" font-size="7.6" text-anchor="start" fill="#0a0a20" font-weight="bold" stroke="#0a0a20" stroke-width="0.75">TRAN</text>
<path d="M123.4,302.7 H160.9 V307.6 L166.2,312.2 H170.9 L175.3,307.6 V302.7 H213.9 V387.6 H123.4 Z" fill="none" stroke="#3f3f62" stroke-width="1.3"/>
<line x1="34.0" y1="335.6" x2="123.4" y2="335.6" stroke="#3f3f62" stroke-width="1.3" />
<line x1="80.5" y1="335.6" x2="80.5" y2="364.5" stroke="#3f3f62" stroke-width="1.3" />
<rect x="77.5" y="340.8" width="6.0" height="18.6" fill="#fff" stroke="#26263c" stroke-width="1.1"/>
<polyline points="34.0,364.5 95.2,364.5 95.2,354.6 123.4,354.6" stroke="#3f3f62" stroke-width="1.3" fill="none" stroke-linejoin="miter" />
<rect x="47.4" y="361.5" width="19.4" height="6.0" fill="#fff" stroke="#26263c" stroke-width="1.1"/>
<circle cx="80.5" cy="335.6" r="1.9" fill="#3a1a3c"/>
<circle cx="80.5" cy="364.5" r="1.9" fill="#3a1a3c"/>
<line x1="213.9" y1="316.7" x2="663.0" y2="316.7" stroke="#3f3f62" stroke-width="1.3" />
<polyline points="213.9,373.6 227.3,373.6 227.3,316.7" stroke="#3f3f62" stroke-width="1.3" fill="none" stroke-linejoin="miter" />
<circle cx="227.3" cy="316.7" r="1.9" fill="#3a1a3c"/>
<polyline points="213.9,335.6 237.0,335.6 237.0,373.5 663.0,373.5" stroke="#3f3f62" stroke-width="1.3" fill="none" stroke-linejoin="miter" />
<line x1="213.9" y1="354.6" x2="288.8" y2="354.6" stroke="#3f3f62" stroke-width="1.3" />
<rect x="255.4" y="351.6" width="19.6" height="6.0" fill="#fff" stroke="#26263c" stroke-width="1.1"/>
<circle cx="288.8" cy="354.5" r="1.9" fill="#3a1a3c"/>
<line x1="293.4" y1="321.7" x2="293.4" y2="339.5" stroke="#3f3f62" stroke-width="1.4" />
<line x1="288.8" y1="331.4" x2="293.4" y2="331.4" stroke="#3f3f62" stroke-width="1.3" />
<polyline points="293.4,331.2 303.1,319.6 302.8,316.7" stroke="#3f3f62" stroke-width="1.3" fill="none" stroke-linejoin="miter" />
<polyline points="293.4,331.6 303.1,340.6 302.8,345.1" stroke="#3f3f62" stroke-width="1.3" fill="none" stroke-linejoin="miter" />
<polygon points="303.1,335.2 303.1,340.8 297.8,340.8" stroke="#3f3f62" stroke-width="1.1" fill="none" stroke-linejoin="miter" />
<line x1="293.4" y1="350.0" x2="293.4" y2="367.8" stroke="#3f3f62" stroke-width="1.4" />
<line x1="288.8" y1="359.2" x2="293.4" y2="359.2" stroke="#3f3f62" stroke-width="1.3" />
<polyline points="302.8,345.1 303.1,348.6 293.4,358.8" stroke="#3f3f62" stroke-width="1.3" fill="none" stroke-linejoin="miter" />
<polygon points="295.3,353.4 295.3,357.2 300.4,357.2" stroke="#3f3f62" stroke-width="1.1" fill="none" stroke-linejoin="miter" />
<polyline points="293.4,359.4 303.1,369.5 302.8,373.5" stroke="#3f3f62" stroke-width="1.3" fill="none" stroke-linejoin="miter" />
<line x1="288.8" y1="331.4" x2="288.8" y2="359.2" stroke="#3f3f62" stroke-width="1.3" />
<circle cx="302.8" cy="316.7" r="1.9" fill="#3a1a3c"/>
<circle cx="302.8" cy="345.1" r="1.9" fill="#3a1a3c"/>
<circle cx="302.8" cy="373.5" r="1.9" fill="#3a1a3c"/>
<line x1="302.8" y1="345.3" x2="477.8" y2="345.3" stroke="#3f3f62" stroke-width="1.3" />
<rect x="350.2" y="342.3" width="19.6" height="6.0" fill="#fff" stroke="#26263c" stroke-width="1.1"/>
<circle cx="463.4" cy="345.3" r="1.9" fill="#3a1a3c"/>
<polyline points="463.4,345.3 463.4,330.5 511.4,330.5 511.4,388.0 402.5,388.0 402.5,445.0" stroke="#3f3f62" stroke-width="1.3" fill="none" stroke-linejoin="miter" />
<rect x="478.0" y="327.5" width="20.0" height="6.0" fill="#fff" stroke="#26263c" stroke-width="1.1"/>
<circle cx="477.8" cy="345.3" r="3.1" fill="#6e1e2e"/>
<circle cx="496.7" cy="345.3" r="3.1" fill="#6e1e2e"/>
<line x1="496.7" y1="345.3" x2="568.4" y2="345.3" stroke="#3f3f62" stroke-width="1.3" />
<circle cx="511.4" cy="345.3" r="1.9" fill="#3a1a3c"/>
<circle cx="534.9" cy="345.3" r="1.9" fill="#3a1a3c"/>
<circle cx="568.4" cy="345.3" r="1.9" fill="#3a1a3c"/>
<line x1="534.9" y1="345.3" x2="534.9" y2="359.4" stroke="#3f3f62" stroke-width="1.3" />
<line x1="534.9" y1="363.3" x2="534.9" y2="373.5" stroke="#3f3f62" stroke-width="1.3" />
<line x1="525.4" y1="359.4" x2="544.4" y2="359.4" stroke="#2a2a40" stroke-width="1.3" />
<path d="M525.4,366.5 Q534.9,360.1 544.4,366.5" stroke="#6a5a72" stroke-width="1.2" fill="none"/>
<line x1="539.3" y1="354.6" x2="543.7" y2="354.6" stroke="#0a0a20" stroke-width="1.4" />
<line x1="541.5" y1="352.4" x2="541.5" y2="356.8" stroke="#0a0a20" stroke-width="1.4" />
<circle cx="534.9" cy="373.5" r="1.9" fill="#3a1a3c"/>
<line x1="568.4" y1="316.7" x2="568.4" y2="373.5" stroke="#3f3f62" stroke-width="1.3" />
<rect x="565.4" y="320.6" width="6.0" height="19.9" fill="#fff" stroke="#26263c" stroke-width="1.1"/>
<circle cx="568.4" cy="316.7" r="1.9" fill="#3a1a3c"/>
<polygon points="563.8,369.1 573.0,369.1 568.4,359.6" stroke="#2b2b70" stroke-width="1.1" fill="#fff" stroke-linejoin="miter" />
<line x1="563.8" y1="359.6" x2="573.0" y2="359.6" stroke="#2b2b70" stroke-width="1.1" />
<line x1="563.8" y1="359.6" x2="563.0" y2="360.8" stroke="#2b2b70" stroke-width="1.0" />
<line x1="573.0" y1="359.6" x2="573.8" y2="358.4" stroke="#2b2b70" stroke-width="1.0" />
<circle cx="568.4" cy="373.5" r="1.9" fill="#3a1a3c"/>
<line x1="611.0" y1="316.7" x2="611.0" y2="345.2" stroke="#3f3f62" stroke-width="1.3" />
<line x1="611.0" y1="348.8" x2="611.0" y2="373.5" stroke="#3f3f62" stroke-width="1.3" />
<line x1="601.5" y1="345.2" x2="620.5" y2="345.2" stroke="#2a2a40" stroke-width="1.3" />
<path d="M601.5,352.7 Q611.0,344.9 620.5,352.7" stroke="#6a5a72" stroke-width="1.2" fill="none"/>
<line x1="615.4" y1="340.4" x2="619.8" y2="340.4" stroke="#0a0a20" stroke-width="1.4" />
<line x1="617.6" y1="338.2" x2="617.6" y2="342.6" stroke="#0a0a20" stroke-width="1.4" />
<circle cx="611.0" cy="316.7" r="1.9" fill="#3a1a3c"/>
<circle cx="611.0" cy="373.5" r="1.9" fill="#3a1a3c"/>
<polygon points="648.8,312.2 648.8,321.2 640.0,316.7" stroke="#2b2b70" stroke-width="1.1" fill="#fff" stroke-linejoin="miter" />
<line x1="640.0" y1="312.2" x2="640.0" y2="321.2" stroke="#2b2b70" stroke-width="1.2" />
<line x1="663.0" y1="316.7" x2="663.0" y2="331.0" stroke="#3f3f62" stroke-width="1.3" />
<line x1="663.0" y1="358.8" x2="663.0" y2="373.5" stroke="#3f3f62" stroke-width="1.3" />
<path d="M663.0,331.0 C668.2,332.4 668.2,337.9 663.6,340.3 C668.2,341.7 668.2,347.2 663.6,349.5 C668.2,350.9 668.2,356.5 663.6,358.8 " stroke="#b07470" stroke-width="1.2" fill="none"/>
<rect x="671.0" y="329.8" width="2.0" height="8.2" fill="#141470"/>
<rect x="671.0" y="339.2" width="2.0" height="12.2" fill="#141470"/>
<rect x="671.0" y="352.6" width="2.0" height="8.0" fill="#141470"/>
<text x="0" y="0" transform="translate(146.4 299.4) scale(0.9 1)" font-size="9.5" text-anchor="start" fill="#0a0a20" font-weight="bold" stroke="#0a0a20" stroke-width="0.75">PC6</text>
<text x="0" y="0" transform="translate(167.9 299.4) scale(0.92 1)" font-size="9.5" text-anchor="start" fill="#0a0a20" font-weight="bold" stroke="#0a0a20" stroke-width="0.75">PC923</text>
<text x="0" y="0" transform="translate(128.9 321.9) scale(1.0 1)" font-size="10" text-anchor="start" fill="#0a0a20" font-weight="bold" stroke="#0a0a20" stroke-width="0.45">1</text>
<text x="0" y="0" transform="translate(138.6 321.9) scale(0.92 1)" font-size="10" text-anchor="start" fill="#0a0a20" font-weight="bold" stroke="#0a0a20" stroke-width="0.45">Nc</text>
<text x="0" y="0" transform="translate(128.9 340.9) scale(1.0 1)" font-size="10" text-anchor="start" fill="#0a0a20" font-weight="bold" stroke="#0a0a20" stroke-width="0.45">2</text>
<text x="0" y="0" transform="translate(140.0 340.9) scale(1.0 1)" font-size="10" text-anchor="start" fill="#0a0a20" font-weight="bold" stroke="#0a0a20" stroke-width="0.45">IF+</text>
<text x="0" y="0" transform="translate(128.9 359.8) scale(1.0 1)" font-size="10" text-anchor="start" fill="#0a0a20" font-weight="bold" stroke="#0a0a20" stroke-width="0.45">3</text>
<text x="0" y="0" transform="translate(140.0 359.8) scale(1.0 1)" font-size="10" text-anchor="start" fill="#0a0a20" font-weight="bold" stroke="#0a0a20" stroke-width="0.45">IF&#8211;</text>
<text x="0" y="0" transform="translate(128.9 378.8) scale(1.0 1)" font-size="10" text-anchor="start" fill="#0a0a20" font-weight="bold" stroke="#0a0a20" stroke-width="0.45">4</text>
<text x="0" y="0" transform="translate(138.6 378.8) scale(0.92 1)" font-size="10" text-anchor="start" fill="#0a0a20" font-weight="bold" stroke="#0a0a20" stroke-width="0.45">Nc</text>
<text x="0" y="0" transform="translate(203.4 321.9) scale(1.0 1)" font-size="10" text-anchor="end" fill="#0a0a20" font-weight="bold" stroke="#0a0a20" stroke-width="0.45">8</text>
<text x="0" y="0" transform="translate(192.4 321.9) scale(0.95 1)" font-size="10" text-anchor="end" fill="#0a0a20" font-weight="bold" stroke="#0a0a20" stroke-width="0.45">Vcc</text>
<text x="0" y="0" transform="translate(203.4 340.9) scale(1.0 1)" font-size="10" text-anchor="end" fill="#0a0a20" font-weight="bold" stroke="#0a0a20" stroke-width="0.45">7</text>
<text x="0" y="0" transform="translate(192.4 340.9) scale(0.8 1)" font-size="10" text-anchor="end" fill="#0a0a20" font-weight="bold" stroke="#0a0a20" stroke-width="0.9">GND</text>
<text x="0" y="0" transform="translate(203.4 359.8) scale(1.0 1)" font-size="10" text-anchor="end" fill="#0a0a20" font-weight="bold" stroke="#0a0a20" stroke-width="0.45">6</text>
<text x="0" y="0" transform="translate(192.4 359.8) scale(0.95 1)" font-size="10" text-anchor="end" fill="#0a0a20" font-weight="bold" stroke="#0a0a20" stroke-width="0.45">Vo</text>
<text x="0" y="0" transform="translate(203.4 378.8) scale(1.0 1)" font-size="10" text-anchor="end" fill="#0a0a20" font-weight="bold" stroke="#0a0a20" stroke-width="0.45">5</text>
<text x="0" y="0" transform="translate(192.4 378.8) scale(0.95 1)" font-size="10" text-anchor="end" fill="#0a0a20" font-weight="bold" stroke="#0a0a20" stroke-width="0.45">Vc</text>
<text x="0" y="0" transform="translate(56.7 348.6) scale(0.82 1)" font-size="8.2" text-anchor="start" fill="#0a0a20" font-weight="bold" stroke="#0a0a20" stroke-width="0.75">R52</text>
<text x="0" y="0" transform="translate(56.7 358.1) scale(0.82 1)" font-size="8.2" text-anchor="start" fill="#0a0a20" font-weight="bold" stroke="#0a0a20" stroke-width="0.75">512</text>
<text x="0" y="0" transform="translate(47.4 376.8) scale(0.82 1)" font-size="8.2" text-anchor="start" fill="#0a0a20" font-weight="bold" stroke="#0a0a20" stroke-width="0.75">R53</text>
<text x="0" y="0" transform="translate(47.4 386.9) scale(0.82 1)" font-size="8.2" text-anchor="start" fill="#0a0a20" font-weight="bold" stroke="#0a0a20" stroke-width="0.75">331</text>
<text x="0" y="0" transform="translate(255.5 340.1) scale(0.85 1)" font-size="8.5" text-anchor="start" fill="#0a0a20" font-weight="bold" stroke="#0a0a20" stroke-width="0.75">R51</text>
<text x="0" y="0" transform="translate(255.5 348.9) scale(0.9 1)" font-size="8.5" text-anchor="start" fill="#0a0a20" font-weight="bold" stroke="#0a0a20" stroke-width="0.75">100</text>
<text x="0" y="0" transform="translate(307.8 329.9) scale(0.85 1)" font-size="8.5" text-anchor="start" fill="#0a0a20" font-weight="bold" stroke="#0a0a20" stroke-width="0.75">T9</text>
<text x="0" y="0" transform="translate(307.8 339.1) scale(0.87 1)" font-size="8.5" text-anchor="start" fill="#0a0a20" font-weight="bold" stroke="#0a0a20" stroke-width="0.75">D1899</text>
<text x="0" y="0" transform="translate(307.8 363.1) scale(0.85 1)" font-size="8.5" text-anchor="start" fill="#0a0a20" font-weight="bold" stroke="#0a0a20" stroke-width="0.75">T8</text>
<text x="0" y="0" transform="translate(307.8 372.9) scale(0.87 1)" font-size="8.5" text-anchor="start" fill="#0a0a20" font-weight="bold" stroke="#0a0a20" stroke-width="0.75">B1261</text>
<text x="0" y="0" transform="translate(361.0 339.0) scale(0.82 1)" font-size="8.2" text-anchor="middle" fill="#0a0a20" font-weight="bold" stroke="#0a0a20" stroke-width="0.75">R48</text>
<text x="0" y="0" transform="translate(361.3 358.0) scale(0.76 1)" font-size="8.2" text-anchor="middle" fill="#0a0a20" font-weight="bold" stroke="#0a0a20" stroke-width="0.75">2W22R</text>
<text x="0" y="0" transform="translate(445.0 329.7) scale(0.82 1)" font-size="8.2" text-anchor="start" fill="#0a0a20" font-weight="bold" stroke="#0a0a20" stroke-width="0.75">R49</text>
<text x="0" y="0" transform="translate(445.0 339.0) scale(0.82 1)" font-size="8.2" text-anchor="start" fill="#0a0a20" font-weight="bold" stroke="#0a0a20" stroke-width="0.75">242</text>
<text x="0" y="0" transform="translate(478.0 357.3) scale(0.8 1)" font-size="7" text-anchor="middle" fill="#0a0a20" font-weight="bold" stroke="#0a0a20" stroke-width="0.75">0V</text>
<text x="0" y="0" transform="translate(497.0 357.3) scale(0.8 1)" font-size="7" text-anchor="middle" fill="#0a0a20" font-weight="bold" stroke="#0a0a20" stroke-width="0.75">EV</text>
<text x="0" y="0" transform="translate(534.5 338.6) scale(0.82 1)" font-size="8.2" text-anchor="middle" fill="#0a0a20" font-weight="bold" stroke="#0a0a20" stroke-width="0.75">C18</text>
<text x="0" y="0" transform="translate(533.7 381.8) scale(0.82 1)" font-size="8.2" text-anchor="middle" fill="#0a0a20" font-weight="bold" stroke="#0a0a20" stroke-width="0.75">100u</text>
<text x="0" y="0" transform="translate(533.7 391.4) scale(0.82 1)" font-size="8.2" text-anchor="middle" fill="#0a0a20" font-weight="bold" stroke="#0a0a20" stroke-width="0.75">25V</text>
<text x="0" y="0" transform="translate(573.3 329.0) scale(0.82 1)" font-size="8.2" text-anchor="start" fill="#0a0a20" font-weight="bold" stroke="#0a0a20" stroke-width="0.75">R50</text>
<text x="0" y="0" transform="translate(573.3 338.6) scale(0.82 1)" font-size="8.2" text-anchor="start" fill="#0a0a20" font-weight="bold" stroke="#0a0a20" stroke-width="0.75">1501</text>
<text x="0" y="0" transform="translate(577.5 367.3) scale(0.82 1)" font-size="8.2" text-anchor="start" fill="#0a0a20" font-weight="bold" stroke="#0a0a20" stroke-width="0.75">Z4</text>
<text x="0" y="0" transform="translate(625.3 348.2) scale(0.82 1)" font-size="8.2" text-anchor="start" fill="#0a0a20" font-weight="bold" stroke="#0a0a20" stroke-width="0.75">C19</text>
<text x="0" y="0" transform="translate(625.3 357.7) scale(0.82 1)" font-size="8.2" text-anchor="start" fill="#0a0a20" font-weight="bold" stroke="#0a0a20" stroke-width="0.75">47u</text>
<text x="0" y="0" transform="translate(625.3 367.3) scale(0.82 1)" font-size="8.2" text-anchor="start" fill="#0a0a20" font-weight="bold" stroke="#0a0a20" stroke-width="0.75">50V</text>
<text x="0" y="0" transform="translate(644.6 333.4) scale(0.88 1)" font-size="9.6" text-anchor="middle" fill="#0a0a20" font-weight="bold" stroke="#0a0a20" stroke-width="0.75">D8</text>
<text x="0" y="0" transform="translate(653.8 310.1) scale(0.84 1)" font-size="7.6" text-anchor="start" fill="#0a0a20" font-weight="bold" stroke="#0a0a20" stroke-width="0.75">TRAN</text>
<path d="M123.4,411.4 H160.9 V416.3 L166.2,420.9 H170.9 L175.3,416.3 V411.4 H213.9 V553.4 H123.4 Z" fill="none" stroke="#3f3f62" stroke-width="1.3"/>
<line x1="34.0" y1="407.0" x2="331.6" y2="407.0" stroke="#3f3f62" stroke-width="1.3" />
<line x1="331.6" y1="407.0" x2="331.6" y2="454.3" stroke="#3f3f62" stroke-width="1.3" />
<line x1="34.0" y1="425.8" x2="123.4" y2="425.8" stroke="#3f3f62" stroke-width="1.3" />
<rect x="47.9" y="422.8" width="18.9" height="6.0" fill="#fff" stroke="#26263c" stroke-width="1.1"/>
<line x1="80.1" y1="425.8" x2="80.1" y2="463.7" stroke="#3f3f62" stroke-width="1.3" />
<rect x="77.1" y="435.3" width="6.0" height="18.9" fill="#fff" stroke="#26263c" stroke-width="1.1"/>
<circle cx="80.1" cy="425.8" r="1.9" fill="#3a1a3c"/>
<circle cx="80.1" cy="463.7" r="1.9" fill="#3a1a3c"/>
<polyline points="108.8,425.8 108.8,444.8 123.4,444.8" stroke="#3f3f62" stroke-width="1.3" fill="none" stroke-linejoin="miter" />
<circle cx="108.8" cy="425.8" r="1.9" fill="#3a1a3c"/>
<line x1="34.0" y1="463.7" x2="123.4" y2="463.7" stroke="#3f3f62" stroke-width="1.3" />
<line x1="114.6" y1="482.6" x2="120.0" y2="482.6" stroke="#3f3f62" stroke-width="1.3" />
<line x1="114.6" y1="501.6" x2="120.0" y2="501.6" stroke="#3f3f62" stroke-width="1.3" />
<line x1="114.6" y1="520.5" x2="120.0" y2="520.5" stroke="#3f3f62" stroke-width="1.3" />
<line x1="114.6" y1="539.5" x2="120.0" y2="539.5" stroke="#3f3f62" stroke-width="1.3" />
<polyline points="213.9,425.8 232.0,425.8 232.0,553.4 568.4,553.4 568.4,501.4" stroke="#3f3f62" stroke-width="1.3" fill="none" stroke-linejoin="miter" />
<line x1="213.9" y1="501.6" x2="232.0" y2="501.6" stroke="#3f3f62" stroke-width="1.3" />
<circle cx="232.0" cy="501.6" r="1.9" fill="#3a1a3c"/>
<line x1="222.6" y1="411.3" x2="222.6" y2="463.7" stroke="#3f3f62" stroke-width="1.3" />
<line x1="213.9" y1="444.8" x2="222.6" y2="444.8" stroke="#3f3f62" stroke-width="1.3" />
<circle cx="222.6" cy="444.8" r="1.9" fill="#3a1a3c"/>
<line x1="213.9" y1="463.7" x2="222.6" y2="463.7" stroke="#3f3f62" stroke-width="1.3" />
<line x1="222.6" y1="411.3" x2="611.0" y2="411.3" stroke="#3f3f62" stroke-width="1.3" />
<line x1="611.0" y1="411.3" x2="611.0" y2="444.3" stroke="#3f3f62" stroke-width="1.3" />
<line x1="246.1" y1="411.3" x2="246.1" y2="539.5" stroke="#3f3f62" stroke-width="1.3" />
<line x1="213.9" y1="539.5" x2="246.1" y2="539.5" stroke="#3f3f62" stroke-width="1.3" />
<rect x="243.3" y="416.6" width="5.6" height="13.6" fill="#fff" stroke="#26263c" stroke-width="1.1"/>
<rect x="243.3" y="440.2" width="5.6" height="14.0" fill="#fff" stroke="#26263c" stroke-width="1.1"/>
<circle cx="246.1" cy="411.3" r="1.9" fill="#3a1a3c"/>
<circle cx="246.1" cy="434.9" r="1.9" fill="#3a1a3c"/>
<circle cx="246.1" cy="458.2" r="1.9" fill="#3a1a3c"/>
<line x1="246.1" y1="434.9" x2="287.2" y2="434.9" stroke="#3f3f62" stroke-width="1.3" />
<circle cx="264.8" cy="434.9" r="1.9" fill="#3a1a3c"/>
<line x1="264.8" y1="434.9" x2="264.8" y2="443.8" stroke="#3f3f62" stroke-width="1.3" />
<line x1="264.8" y1="447.6" x2="264.8" y2="453.4" stroke="#3f3f62" stroke-width="1.3" />
<line x1="256.5" y1="443.8" x2="273.1" y2="443.8" stroke="#3f3f62" stroke-width="1.6" />
<line x1="256.5" y1="447.6" x2="273.1" y2="447.6" stroke="#3f3f62" stroke-width="1.6" />
<circle cx="264.8" cy="453.4" r="1.9" fill="#3a1a3c"/>
<polyline points="246.1,458.2 260.2,458.2 264.8,454.4 287.2,454.4 287.2,434.9" stroke="#3f3f62" stroke-width="1.3" fill="none" stroke-linejoin="miter" />
<rect x="276.5" y="429.5" width="43.3" height="30.5" fill="none" stroke="#3f3f62" stroke-width="1.3"/>
<polygon points="280.3,440.4 294.3,440.4 287.3,447.4" stroke="#3f3f62" stroke-width="1.1" fill="none" stroke-linejoin="miter" />
<line x1="280.3" y1="448.0" x2="294.3" y2="448.0" stroke="#3f3f62" stroke-width="1.1" />
<line x1="299.2" y1="446.8" x2="304.6" y2="438.6" stroke="#3f3f62" stroke-width="1.0" />
<line x1="301.8" y1="448.5" x2="307.2" y2="440.3" stroke="#3f3f62" stroke-width="0.9" />
<polyline points="302.6,438.8 304.6,438.6 304.3,440.6" stroke="#3f3f62" stroke-width="1.0" fill="none" stroke-linejoin="miter" />
<line x1="308.1" y1="438.1" x2="308.1" y2="449.1" stroke="#3f3f62" stroke-width="1.3" />
<polyline points="308.1,441.5 313.9,434.9 331.4,434.9" stroke="#3f3f62" stroke-width="1.3" fill="none" stroke-linejoin="miter" />
<polyline points="308.1,446.0 313.9,454.3 331.4,454.3" stroke="#3f3f62" stroke-width="1.3" fill="none" stroke-linejoin="miter" />
<polyline points="310.2,452.8 313.9,454.3 313.1,450.5" stroke="#3f3f62" stroke-width="1.0" fill="none" stroke-linejoin="miter" />
<circle cx="331.4" cy="434.9" r="1.9" fill="#3a1a3c"/>
<circle cx="331.4" cy="454.3" r="1.9" fill="#3a1a3c"/>
<line x1="331.4" y1="434.9" x2="331.4" y2="443.7" stroke="#3f3f62" stroke-width="1.3" />
<line x1="331.4" y1="447.5" x2="331.4" y2="454.3" stroke="#3f3f62" stroke-width="1.3" />
<line x1="323.0" y1="443.7" x2="339.8" y2="443.7" stroke="#3f3f62" stroke-width="1.6" />
<line x1="323.0" y1="447.5" x2="339.8" y2="447.5" stroke="#3f3f62" stroke-width="1.6" />
<line x1="331.4" y1="454.3" x2="331.4" y2="462.7" stroke="#6a3040" stroke-width="1.3" />
<line x1="324.4" y1="462.7" x2="338.4" y2="462.7" stroke="#3f3f62" stroke-width="1.2" />
<line x1="327.1" y1="467.2" x2="335.7" y2="467.2" stroke="#3f3f62" stroke-width="1.2" />
<line x1="329.8" y1="471.7" x2="333.0" y2="471.7" stroke="#3f3f62" stroke-width="1.2" />
<line x1="213.9" y1="482.6" x2="407.4" y2="482.6" stroke="#3f3f62" stroke-width="1.3" />
<rect x="255.0" y="479.6" width="20.0" height="6.0" fill="#fff" stroke="#26263c" stroke-width="1.1"/>
<circle cx="407.4" cy="482.6" r="1.9" fill="#3a1a3c"/>
<line x1="213.9" y1="520.5" x2="374.0" y2="520.5" stroke="#3f3f62" stroke-width="1.3" />
<rect x="284.4" y="517.5" width="18.9" height="6.0" fill="#fff" stroke="#26263c" stroke-width="1.1"/>
<circle cx="317.1" cy="520.5" r="1.9" fill="#3a1a3c"/>
<circle cx="350.6" cy="520.5" r="1.9" fill="#3a1a3c"/>
<circle cx="374.0" cy="520.5" r="1.9" fill="#3a1a3c"/>
<polygon points="339.0,516.0 339.0,525.0 329.7,520.5" stroke="#2b2b70" stroke-width="1.1" fill="#fff" stroke-linejoin="miter" />
<line x1="329.7" y1="516.0" x2="329.7" y2="525.0" stroke="#2b2b70" stroke-width="1.2" />
<line x1="317.1" y1="520.5" x2="317.1" y2="553.4" stroke="#3f3f62" stroke-width="1.3" />
<rect x="314.1" y="525.5" width="6.0" height="18.9" fill="#fff" stroke="#26263c" stroke-width="1.1"/>
<line x1="350.6" y1="520.5" x2="350.6" y2="553.4" stroke="#3f3f62" stroke-width="1.3" />
<polygon points="346.0,542.5 355.2,542.5 350.6,533.0" stroke="#2b2b70" stroke-width="1.1" fill="#fff" stroke-linejoin="miter" />
<line x1="346.0" y1="533.0" x2="355.2" y2="533.0" stroke="#2b2b70" stroke-width="1.1" />
<line x1="346.0" y1="533.0" x2="345.2" y2="534.2" stroke="#2b2b70" stroke-width="1.0" />
<line x1="355.2" y1="533.0" x2="356.0" y2="531.8" stroke="#2b2b70" stroke-width="1.0" />
<circle cx="317.1" cy="553.4" r="1.9" fill="#3a1a3c"/>
<circle cx="350.6" cy="553.4" r="1.9" fill="#3a1a3c"/>
<line x1="374.0" y1="411.3" x2="374.0" y2="553.4" stroke="#3f3f62" stroke-width="1.3" />
<rect x="371.0" y="416.5" width="6.0" height="18.9" fill="#fff" stroke="#26263c" stroke-width="1.1"/>
<rect x="371.0" y="492.0" width="6.0" height="19.4" fill="#fff" stroke="#26263c" stroke-width="1.1"/>
<line x1="374.0" y1="520.1" x2="374.0" y2="534.4" stroke="#3f3f62" stroke-width="1.3" />
<line x1="374.0" y1="538.0" x2="374.0" y2="553.4" stroke="#3f3f62" stroke-width="1.3" />
<line x1="366.0" y1="534.4" x2="382.0" y2="534.4" stroke="#3f3f62" stroke-width="1.6" />
<line x1="366.0" y1="538.0" x2="382.0" y2="538.0" stroke="#3f3f62" stroke-width="1.6" />
<circle cx="374.0" cy="411.3" r="1.9" fill="#3a1a3c"/>
<circle cx="374.0" cy="445.0" r="1.9" fill="#3a1a3c"/>
<circle cx="374.0" cy="553.4" r="1.9" fill="#3a1a3c"/>
<polyline points="374.0,445.0 402.5,445.0" stroke="#3f3f62" stroke-width="1.3" fill="none" stroke-linejoin="miter" />
<polygon points="383.0,440.5 383.0,449.5 392.5,445.0" stroke="#2b2b70" stroke-width="1.1" fill="#fff" stroke-linejoin="miter" />
<line x1="392.5" y1="440.5" x2="392.5" y2="449.5" stroke="#2b2b70" stroke-width="1.2" />
<line x1="412.0" y1="449.7" x2="412.0" y2="467.5" stroke="#3f3f62" stroke-width="1.4" />
<line x1="407.4" y1="459.4" x2="412.0" y2="459.4" stroke="#3f3f62" stroke-width="1.3" />
<polyline points="412.0,459.2 421.7,447.6 421.4,411.3" stroke="#3f3f62" stroke-width="1.3" fill="none" stroke-linejoin="miter" />
<polyline points="412.0,459.6 421.7,468.6 421.4,473.1" stroke="#3f3f62" stroke-width="1.3" fill="none" stroke-linejoin="miter" />
<polygon points="421.7,463.2 421.7,468.8 416.4,468.8" stroke="#3f3f62" stroke-width="1.1" fill="none" stroke-linejoin="miter" />
<line x1="412.0" y1="478.0" x2="412.0" y2="495.8" stroke="#3f3f62" stroke-width="1.4" />
<line x1="407.4" y1="487.2" x2="412.0" y2="487.2" stroke="#3f3f62" stroke-width="1.3" />
<polyline points="421.4,473.1 421.7,476.6 412.0,486.8" stroke="#3f3f62" stroke-width="1.3" fill="none" stroke-linejoin="miter" />
<polygon points="413.9,481.4 413.9,485.2 419.0,485.2" stroke="#3f3f62" stroke-width="1.1" fill="none" stroke-linejoin="miter" />
<polyline points="412.0,487.4 421.7,497.5 421.4,553.4" stroke="#3f3f62" stroke-width="1.3" fill="none" stroke-linejoin="miter" />
<line x1="407.4" y1="459.4" x2="407.4" y2="487.2" stroke="#3f3f62" stroke-width="1.3" />
<circle cx="421.4" cy="411.3" r="1.9" fill="#3a1a3c"/>
<circle cx="421.4" cy="473.0" r="1.9" fill="#3a1a3c"/>
<circle cx="421.4" cy="553.4" r="1.9" fill="#3a1a3c"/>
<line x1="421.4" y1="473.1" x2="477.5" y2="473.1" stroke="#3f3f62" stroke-width="1.3" />
<rect x="435.5" y="470.1" width="19.5" height="6.0" fill="#fff" stroke="#26263c" stroke-width="1.1"/>
<circle cx="463.9" cy="473.1" r="1.9" fill="#3a1a3c"/>
<polyline points="463.9,473.1 463.9,486.8 511.4,486.8 511.4,473.1" stroke="#3f3f62" stroke-width="1.3" fill="none" stroke-linejoin="miter" />
<rect x="478.5" y="483.8" width="19.3" height="6.0" fill="#fff" stroke="#26263c" stroke-width="1.1"/>
<circle cx="477.5" cy="473.1" r="3.1" fill="#6e1e2e"/>
<circle cx="496.7" cy="473.1" r="3.1" fill="#6e1e2e"/>
<line x1="496.7" y1="473.1" x2="568.4" y2="473.1" stroke="#3f3f62" stroke-width="1.3" />
<circle cx="511.4" cy="473.1" r="1.9" fill="#3a1a3c"/>
<circle cx="534.6" cy="473.1" r="1.9" fill="#3a1a3c"/>
<circle cx="568.4" cy="473.1" r="1.9" fill="#3a1a3c"/>
<line x1="534.9" y1="473.1" x2="534.9" y2="487.6" stroke="#3f3f62" stroke-width="1.3" />
<line x1="534.9" y1="491.3" x2="534.9" y2="501.4" stroke="#3f3f62" stroke-width="1.3" />
<line x1="525.4" y1="487.6" x2="544.4" y2="487.6" stroke="#2a2a40" stroke-width="1.3" />
<path d="M525.4,494.1 Q534.9,488.5 544.4,494.1" stroke="#6a5a72" stroke-width="1.2" fill="none"/>
<line x1="539.3" y1="482.8" x2="543.7" y2="482.8" stroke="#0a0a20" stroke-width="1.4" />
<line x1="541.5" y1="480.6" x2="541.5" y2="485.0" stroke="#0a0a20" stroke-width="1.4" />
<polyline points="534.6,501.0 534.6,501.4 663.1,501.4" stroke="#3f3f62" stroke-width="1.3" fill="none" stroke-linejoin="miter" />
<line x1="568.4" y1="444.3" x2="568.4" y2="501.4" stroke="#3f3f62" stroke-width="1.3" />
<rect x="565.4" y="449.4" width="6.0" height="18.9" fill="#fff" stroke="#26263c" stroke-width="1.1"/>
<polygon points="563.8,497.1 573.0,497.1 568.4,487.6" stroke="#2b2b70" stroke-width="1.1" fill="#fff" stroke-linejoin="miter" />
<line x1="563.8" y1="487.6" x2="573.0" y2="487.6" stroke="#2b2b70" stroke-width="1.1" />
<line x1="563.8" y1="487.6" x2="563.0" y2="488.8" stroke="#2b2b70" stroke-width="1.0" />
<line x1="573.0" y1="487.6" x2="573.8" y2="486.4" stroke="#2b2b70" stroke-width="1.0" />
<circle cx="568.4" cy="501.4" r="1.9" fill="#3a1a3c"/>
<line x1="568.4" y1="444.3" x2="663.1" y2="444.3" stroke="#3f3f62" stroke-width="1.3" />
<circle cx="611.0" cy="444.3" r="1.9" fill="#3a1a3c"/>
<circle cx="611.0" cy="501.4" r="1.9" fill="#3a1a3c"/>
<line x1="611.0" y1="444.3" x2="611.0" y2="473.5" stroke="#3f3f62" stroke-width="1.3" />
<line x1="611.0" y1="477.1" x2="611.0" y2="501.4" stroke="#3f3f62" stroke-width="1.3" />
<line x1="601.5" y1="473.5" x2="620.5" y2="473.5" stroke="#2a2a40" stroke-width="1.3" />
<path d="M601.5,480.7 Q611.0,473.5 620.5,480.7" stroke="#6a5a72" stroke-width="1.2" fill="none"/>
<line x1="615.4" y1="468.7" x2="619.8" y2="468.7" stroke="#0a0a20" stroke-width="1.4" />
<line x1="617.6" y1="466.5" x2="617.6" y2="470.9" stroke="#0a0a20" stroke-width="1.4" />
<polygon points="648.8,439.8 648.8,448.8 639.5,444.3" stroke="#2b2b70" stroke-width="1.1" fill="#fff" stroke-linejoin="miter" />
<line x1="639.5" y1="439.8" x2="639.5" y2="448.8" stroke="#2b2b70" stroke-width="1.2" />
<line x1="663.1" y1="444.3" x2="663.1" y2="458.5" stroke="#3f3f62" stroke-width="1.3" />
<line x1="663.1" y1="487.5" x2="663.1" y2="501.4" stroke="#3f3f62" stroke-width="1.3" />
<path d="M663.1,458.5 C668.3,459.9 668.3,465.8 663.7,468.2 C668.3,469.6 668.3,475.4 663.7,477.8 C668.3,479.3 668.3,485.1 663.7,487.5 " stroke="#b07470" stroke-width="1.2" fill="none"/>
<rect x="671.0" y="457.8" width="2.0" height="8.2" fill="#141470"/>
<rect x="671.0" y="467.2" width="2.0" height="12.2" fill="#141470"/>
<rect x="671.0" y="480.6" width="2.0" height="8.0" fill="#141470"/>
<text x="0" y="0" transform="translate(146.4 400.7) scale(0.9 1)" font-size="9.5" text-anchor="start" fill="#0a0a20" font-weight="bold" stroke="#0a0a20" stroke-width="0.75">PC8</text>
<text x="0" y="0" transform="translate(167.9 400.7) scale(0.92 1)" font-size="9.5" text-anchor="start" fill="#0a0a20" font-weight="bold" stroke="#0a0a20" stroke-width="0.75">PC929</text>
<text x="0" y="0" transform="translate(130.2 431.0) scale(1.0 1)" font-size="10" text-anchor="start" fill="#0a0a20" font-weight="bold" stroke="#0a0a20" stroke-width="0.45">IF&#8211;</text>
<text x="0" y="0" transform="translate(128.9 450.0) scale(1.0 1)" font-size="10" text-anchor="start" fill="#0a0a20" font-weight="bold" stroke="#0a0a20" stroke-width="0.45">2</text>
<text x="0" y="0" transform="translate(140.0 450.0) scale(1.0 1)" font-size="10" text-anchor="start" fill="#0a0a20" font-weight="bold" stroke="#0a0a20" stroke-width="0.45">IF&#8211;</text>
<text x="0" y="0" transform="translate(128.9 468.9) scale(1.0 1)" font-size="10" text-anchor="start" fill="#0a0a20" font-weight="bold" stroke="#0a0a20" stroke-width="0.45">3</text>
<text x="0" y="0" transform="translate(140.0 468.9) scale(1.0 1)" font-size="10" text-anchor="start" fill="#0a0a20" font-weight="bold" stroke="#0a0a20" stroke-width="0.45">IF+</text>
<text x="0" y="0" transform="translate(128.9 487.9) scale(1.0 1)" font-size="10" text-anchor="start" fill="#0a0a20" font-weight="bold" stroke="#0a0a20" stroke-width="0.45">4</text>
<text x="0" y="0" transform="translate(138.6 487.9) scale(0.92 1)" font-size="10" text-anchor="start" fill="#0a0a20" font-weight="bold" stroke="#0a0a20" stroke-width="0.45">Nc</text>
<text x="0" y="0" transform="translate(128.9 506.8) scale(1.0 1)" font-size="10" text-anchor="start" fill="#0a0a20" font-weight="bold" stroke="#0a0a20" stroke-width="0.45">5</text>
<text x="0" y="0" transform="translate(138.6 506.8) scale(0.92 1)" font-size="10" text-anchor="start" fill="#0a0a20" font-weight="bold" stroke="#0a0a20" stroke-width="0.45">Nc</text>
<text x="0" y="0" transform="translate(128.9 525.8) scale(1.0 1)" font-size="10" text-anchor="start" fill="#0a0a20" font-weight="bold" stroke="#0a0a20" stroke-width="0.45">6</text>
<text x="0" y="0" transform="translate(138.6 525.8) scale(0.92 1)" font-size="10" text-anchor="start" fill="#0a0a20" font-weight="bold" stroke="#0a0a20" stroke-width="0.45">Nc</text>
<text x="0" y="0" transform="translate(128.9 544.7) scale(1.0 1)" font-size="10" text-anchor="start" fill="#0a0a20" font-weight="bold" stroke="#0a0a20" stroke-width="0.45">7</text>
<text x="0" y="0" transform="translate(138.6 544.7) scale(0.92 1)" font-size="10" text-anchor="start" fill="#0a0a20" font-weight="bold" stroke="#0a0a20" stroke-width="0.45">Nc</text>
<text x="0" y="0" transform="translate(203.4 431.0) scale(1.0 1)" font-size="10" text-anchor="end" fill="#0a0a20" font-weight="bold" stroke="#0a0a20" stroke-width="0.45">14</text>
<text x="0" y="0" transform="translate(187.2 431.0) scale(0.8 1)" font-size="10" text-anchor="end" fill="#0a0a20" font-weight="bold" stroke="#0a0a20" stroke-width="0.9">GND</text>
<text x="0" y="0" transform="translate(203.4 450.0) scale(1.0 1)" font-size="10" text-anchor="end" fill="#0a0a20" font-weight="bold" stroke="#0a0a20" stroke-width="0.45">13</text>
<text x="0" y="0" transform="translate(187.2 450.0) scale(0.95 1)" font-size="10" text-anchor="end" fill="#0a0a20" font-weight="bold" stroke="#0a0a20" stroke-width="0.45">Vcc</text>
<text x="0" y="0" transform="translate(203.4 468.9) scale(1.0 1)" font-size="10" text-anchor="end" fill="#0a0a20" font-weight="bold" stroke="#0a0a20" stroke-width="0.45">12</text>
<text x="0" y="0" transform="translate(187.2 468.9) scale(0.95 1)" font-size="10" text-anchor="end" fill="#0a0a20" font-weight="bold" stroke="#0a0a20" stroke-width="0.45">Vc</text>
<text x="0" y="0" transform="translate(203.4 487.9) scale(1.0 1)" font-size="10" text-anchor="end" fill="#0a0a20" font-weight="bold" stroke="#0a0a20" stroke-width="0.45">11</text>
<text x="0" y="0" transform="translate(187.2 487.9) scale(0.95 1)" font-size="10" text-anchor="end" fill="#0a0a20" font-weight="bold" stroke="#0a0a20" stroke-width="0.45">Vo</text>
<text x="0" y="0" transform="translate(203.4 506.8) scale(1.0 1)" font-size="10" text-anchor="end" fill="#0a0a20" font-weight="bold" stroke="#0a0a20" stroke-width="0.45">10</text>
<text x="0" y="0" transform="translate(187.2 506.8) scale(0.8 1)" font-size="10" text-anchor="end" fill="#0a0a20" font-weight="bold" stroke="#0a0a20" stroke-width="0.9">GND</text>
<text x="0" y="0" transform="translate(203.4 525.8) scale(1.0 1)" font-size="10" text-anchor="end" fill="#0a0a20" font-weight="bold" stroke="#0a0a20" stroke-width="0.45">9</text>
<text x="0" y="0" transform="translate(192.4 525.8) scale(0.95 1)" font-size="10" text-anchor="end" fill="#0a0a20" font-weight="bold" stroke="#0a0a20" stroke-width="0.45">C</text>
<text x="0" y="0" transform="translate(203.4 544.7) scale(1.0 1)" font-size="10" text-anchor="end" fill="#0a0a20" font-weight="bold" stroke="#0a0a20" stroke-width="0.45">8</text>
<text x="0" y="0" transform="translate(192.4 544.7) scale(0.95 1)" font-size="10" text-anchor="end" fill="#0a0a20" font-weight="bold" stroke="#0a0a20" stroke-width="0.45">FS</text>
<text x="0" y="0" transform="translate(47.0 438.3) scale(0.82 1)" font-size="8.2" text-anchor="start" fill="#0a0a20" font-weight="bold" stroke="#0a0a20" stroke-width="0.75">R37</text>
<text x="0" y="0" transform="translate(47.0 448.0) scale(0.82 1)" font-size="8.2" text-anchor="start" fill="#0a0a20" font-weight="bold" stroke="#0a0a20" stroke-width="0.75">331</text>
<text x="0" y="0" transform="translate(85.0 443.4) scale(0.82 1)" font-size="8.2" text-anchor="start" fill="#0a0a20" font-weight="bold" stroke="#0a0a20" stroke-width="0.75">R36</text>
<text x="0" y="0" transform="translate(85.0 453.0) scale(0.82 1)" font-size="8.2" text-anchor="start" fill="#0a0a20" font-weight="bold" stroke="#0a0a20" stroke-width="0.75">512</text>
<text x="0" y="0" transform="translate(251.0 419.4) scale(0.82 1)" font-size="8.2" text-anchor="start" fill="#0a0a20" font-weight="bold" stroke="#0a0a20" stroke-width="0.75">R43</text>
<text x="0" y="0" transform="translate(251.0 428.3) scale(0.82 1)" font-size="8.2" text-anchor="start" fill="#0a0a20" font-weight="bold" stroke="#0a0a20" stroke-width="0.75">392</text>
<text transform="translate(240.9 462.8) rotate(-90) scale(0.9 1)" font-size="8.4" fill="#0a0a20" font-weight="bold" stroke="#0a0a20" stroke-width="0.6">R41  511</text>
<text x="0" y="0" transform="translate(272.3 432.3) scale(1.0 1)" font-size="7.5" text-anchor="middle" fill="#0a0a20" font-weight="bold" stroke="#0a0a20" stroke-width="0.75">1</text>
<text x="0" y="0" transform="translate(272.3 462.5) scale(1.0 1)" font-size="7.5" text-anchor="middle" fill="#0a0a20" font-weight="bold" stroke="#0a0a20" stroke-width="0.75">2</text>
<text x="0" y="0" transform="translate(322.4 433.1) scale(1.0 1)" font-size="7.5" text-anchor="middle" fill="#0a0a20" font-weight="bold" stroke="#0a0a20" stroke-width="0.75">4</text>
<text x="0" y="0" transform="translate(322.4 463.5) scale(1.0 1)" font-size="7.5" text-anchor="middle" fill="#0a0a20" font-weight="bold" stroke="#0a0a20" stroke-width="0.75">3</text>
<text x="0" y="0" transform="translate(262.0 471.9) scale(0.85 1)" font-size="8" text-anchor="middle" fill="#0a0a20" font-weight="bold" stroke="#0a0a20" stroke-width="0.75">C15</text>
<text x="0" y="0" transform="translate(295.2 471.9) scale(0.85 1)" font-size="8" text-anchor="middle" fill="#0a0a20" font-weight="bold" stroke="#0a0a20" stroke-width="0.75">PC7</text>
<text x="0" y="0" transform="translate(340.0 457.5) scale(0.85 1)" font-size="8" text-anchor="start" fill="#0a0a20" font-weight="bold" stroke="#0a0a20" stroke-width="0.75">C12</text>
<text x="0" y="0" transform="translate(256.0 495.3) scale(0.85 1)" font-size="8.5" text-anchor="start" fill="#0a0a20" font-weight="bold" stroke="#0a0a20" stroke-width="0.75">R47</text>
<text x="0" y="0" transform="translate(256.0 504.1) scale(0.9 1)" font-size="8.5" text-anchor="start" fill="#0a0a20" font-weight="bold" stroke="#0a0a20" stroke-width="0.75">100</text>
<text x="0" y="0" transform="translate(284.0 504.6) scale(0.82 1)" font-size="8.2" text-anchor="start" fill="#0a0a20" font-weight="bold" stroke="#0a0a20" stroke-width="0.75">R38</text>
<text x="0" y="0" transform="translate(284.5 514.6) scale(0.82 1)" font-size="8.2" text-anchor="start" fill="#0a0a20" font-weight="bold" stroke="#0a0a20" stroke-width="0.75">103</text>
<text x="0" y="0" transform="translate(293.0 538.0) scale(0.82 1)" font-size="8.2" text-anchor="start" fill="#0a0a20" font-weight="bold" stroke="#0a0a20" stroke-width="0.75">R39</text>
<text x="0" y="0" transform="translate(293.0 546.9) scale(0.82 1)" font-size="8.2" text-anchor="start" fill="#0a0a20" font-weight="bold" stroke="#0a0a20" stroke-width="0.75">513</text>
<text x="0" y="0" transform="translate(338.0 543.0) scale(0.82 1)" font-size="8.2" text-anchor="middle" fill="#0a0a20" font-weight="bold" stroke="#0a0a20" stroke-width="0.75">D9</text>
<text x="0" y="0" transform="translate(350.5 504.6) scale(0.82 1)" font-size="8.2" text-anchor="start" fill="#0a0a20" font-weight="bold" stroke="#0a0a20" stroke-width="0.75">R42</text>
<text x="0" y="0" transform="translate(350.5 514.6) scale(0.82 1)" font-size="8.2" text-anchor="start" fill="#0a0a20" font-weight="bold" stroke="#0a0a20" stroke-width="0.75">242</text>
<text x="0" y="0" transform="translate(350.5 428.8) scale(0.82 1)" font-size="8.2" text-anchor="start" fill="#0a0a20" font-weight="bold" stroke="#0a0a20" stroke-width="0.75">R44</text>
<text x="0" y="0" transform="translate(350.5 438.0) scale(0.82 1)" font-size="8.2" text-anchor="start" fill="#0a0a20" font-weight="bold" stroke="#0a0a20" stroke-width="0.75">242</text>
<text x="0" y="0" transform="translate(387.9 457.8) scale(0.82 1)" font-size="8.2" text-anchor="middle" fill="#0a0a20" font-weight="bold" stroke="#0a0a20" stroke-width="0.75">D6</text>
<text x="0" y="0" transform="translate(394.6 542.6) scale(0.82 1)" font-size="8.2" text-anchor="middle" fill="#0a0a20" font-weight="bold" stroke="#0a0a20" stroke-width="0.75">C15</text>
<text x="0" y="0" transform="translate(426.2 433.5) scale(0.85 1)" font-size="8.5" text-anchor="start" fill="#0a0a20" font-weight="bold" stroke="#0a0a20" stroke-width="0.75">T7</text>
<text x="0" y="0" transform="translate(426.2 443.1) scale(0.87 1)" font-size="8.5" text-anchor="start" fill="#0a0a20" font-weight="bold" stroke="#0a0a20" stroke-width="0.75">D1899</text>
<text x="0" y="0" transform="translate(426.2 508.3) scale(0.85 1)" font-size="8.5" text-anchor="start" fill="#0a0a20" font-weight="bold" stroke="#0a0a20" stroke-width="0.75">T6</text>
<text x="0" y="0" transform="translate(426.2 518.3) scale(0.87 1)" font-size="8.5" text-anchor="start" fill="#0a0a20" font-weight="bold" stroke="#0a0a20" stroke-width="0.75">B1261</text>
<text x="0" y="0" transform="translate(442.5 466.9) scale(0.82 1)" font-size="8.2" text-anchor="middle" fill="#0a0a20" font-weight="bold" stroke="#0a0a20" stroke-width="0.75">R46</text>
<text x="0" y="0" transform="translate(442.0 486.3) scale(0.76 1)" font-size="8.2" text-anchor="middle" fill="#0a0a20" font-weight="bold" stroke="#0a0a20" stroke-width="0.75">2W22R</text>
<text x="0" y="0" transform="translate(478.0 466.4) scale(0.8 1)" font-size="7" text-anchor="middle" fill="#0a0a20" font-weight="bold" stroke="#0a0a20" stroke-width="0.75">Y6</text>
<text x="0" y="0" transform="translate(494.5 466.4) scale(0.8 1)" font-size="7" text-anchor="middle" fill="#0a0a20" font-weight="bold" stroke="#0a0a20" stroke-width="0.75">8</text>
<text x="0" y="0" transform="translate(485.0 500.0) scale(0.82 1)" font-size="8.2" text-anchor="middle" fill="#0a0a20" font-weight="bold" stroke="#0a0a20" stroke-width="0.75">R40</text>
<text x="0" y="0" transform="translate(485.0 509.0) scale(0.82 1)" font-size="8.2" text-anchor="middle" fill="#0a0a20" font-weight="bold" stroke="#0a0a20" stroke-width="0.75">242</text>
<text x="0" y="0" transform="translate(462.0 403.6) scale(0.85 1)" font-size="8" text-anchor="middle" fill="#0a0a20" font-weight="bold" stroke="#0a0a20" stroke-width="0.75">CN8</text>
<text x="0" y="0" transform="translate(534.6 513.7) scale(0.82 1)" font-size="8.2" text-anchor="middle" fill="#0a0a20" font-weight="bold" stroke="#0a0a20" stroke-width="0.75">C16</text>
<text x="0" y="0" transform="translate(534.0 524.4) scale(0.82 1)" font-size="8.2" text-anchor="middle" fill="#0a0a20" font-weight="bold" stroke="#0a0a20" stroke-width="0.75">100u</text>
<text x="0" y="0" transform="translate(535.5 533.4) scale(0.82 1)" font-size="8.2" text-anchor="middle" fill="#0a0a20" font-weight="bold" stroke="#0a0a20" stroke-width="0.75">25V</text>
<text x="0" y="0" transform="translate(572.8 456.6) scale(0.82 1)" font-size="8.2" text-anchor="start" fill="#0a0a20" font-weight="bold" stroke="#0a0a20" stroke-width="0.75">R45</text>
<text x="0" y="0" transform="translate(572.8 466.5) scale(0.82 1)" font-size="8.2" text-anchor="start" fill="#0a0a20" font-weight="bold" stroke="#0a0a20" stroke-width="0.75">1501</text>
<text x="0" y="0" transform="translate(577.5 495.6) scale(0.82 1)" font-size="8.2" text-anchor="start" fill="#0a0a20" font-weight="bold" stroke="#0a0a20" stroke-width="0.75">Z3</text>
<text x="0" y="0" transform="translate(625.0 475.8) scale(0.82 1)" font-size="8.2" text-anchor="start" fill="#0a0a20" font-weight="bold" stroke="#0a0a20" stroke-width="0.75">C17</text>
<text x="0" y="0" transform="translate(625.0 486.3) scale(0.82 1)" font-size="8.2" text-anchor="start" fill="#0a0a20" font-weight="bold" stroke="#0a0a20" stroke-width="0.75">47u</text>
<text x="0" y="0" transform="translate(625.0 495.6) scale(0.82 1)" font-size="8.2" text-anchor="start" fill="#0a0a20" font-weight="bold" stroke="#0a0a20" stroke-width="0.75">50V</text>
<text x="0" y="0" transform="translate(644.6 461.4) scale(0.88 1)" font-size="9.6" text-anchor="middle" fill="#0a0a20" font-weight="bold" stroke="#0a0a20" stroke-width="0.75">D7</text>
<text x="0" y="0" transform="translate(653.8 438.0) scale(0.84 1)" font-size="7.6" text-anchor="start" fill="#0a0a20" font-weight="bold" stroke="#0a0a20" stroke-width="0.75">TRAN</text>
<circle cx="123.4" cy="46.7" r="4.1" fill="#fff" stroke="#3f3f62" stroke-width="1.1"/>
<circle cx="213.9" cy="46.7" r="4.1" fill="#fff" stroke="#3f3f62" stroke-width="1.1"/>
<circle cx="123.4" cy="65.7" r="4.1" fill="#fff" stroke="#3f3f62" stroke-width="1.1"/>
<circle cx="213.9" cy="65.7" r="4.1" fill="#fff" stroke="#3f3f62" stroke-width="1.1"/>
<circle cx="123.4" cy="84.6" r="4.1" fill="#fff" stroke="#3f3f62" stroke-width="1.1"/>
<circle cx="213.9" cy="84.6" r="4.1" fill="#fff" stroke="#3f3f62" stroke-width="1.1"/>
<circle cx="123.4" cy="103.5" r="4.1" fill="#fff" stroke="#3f3f62" stroke-width="1.1"/>
<circle cx="213.9" cy="103.5" r="4.1" fill="#fff" stroke="#3f3f62" stroke-width="1.1"/>
<circle cx="123.4" cy="155.8" r="4.1" fill="#fff" stroke="#3f3f62" stroke-width="1.1"/>
<circle cx="213.9" cy="155.8" r="4.1" fill="#fff" stroke="#3f3f62" stroke-width="1.1"/>
<circle cx="123.4" cy="174.8" r="4.1" fill="#fff" stroke="#3f3f62" stroke-width="1.1"/>
<circle cx="213.9" cy="174.8" r="4.1" fill="#fff" stroke="#3f3f62" stroke-width="1.1"/>
<circle cx="123.4" cy="193.7" r="4.1" fill="#fff" stroke="#3f3f62" stroke-width="1.1"/>
<circle cx="213.9" cy="193.7" r="4.1" fill="#fff" stroke="#3f3f62" stroke-width="1.1"/>
<circle cx="123.4" cy="212.7" r="4.1" fill="#fff" stroke="#3f3f62" stroke-width="1.1"/>
<circle cx="213.9" cy="212.7" r="4.1" fill="#fff" stroke="#3f3f62" stroke-width="1.1"/>
<circle cx="123.4" cy="231.6" r="4.1" fill="#fff" stroke="#3f3f62" stroke-width="1.1"/>
<circle cx="213.9" cy="231.6" r="4.1" fill="#fff" stroke="#3f3f62" stroke-width="1.1"/>
<circle cx="123.4" cy="250.6" r="4.1" fill="#fff" stroke="#3f3f62" stroke-width="1.1"/>
<circle cx="213.9" cy="250.6" r="4.1" fill="#fff" stroke="#3f3f62" stroke-width="1.1"/>
<circle cx="123.4" cy="269.5" r="4.1" fill="#fff" stroke="#3f3f62" stroke-width="1.1"/>
<circle cx="213.9" cy="269.5" r="4.1" fill="#fff" stroke="#3f3f62" stroke-width="1.1"/>
<circle cx="123.4" cy="316.7" r="4.1" fill="#fff" stroke="#3f3f62" stroke-width="1.1"/>
<circle cx="213.9" cy="316.7" r="4.1" fill="#fff" stroke="#3f3f62" stroke-width="1.1"/>
<circle cx="123.4" cy="335.6" r="4.1" fill="#fff" stroke="#3f3f62" stroke-width="1.1"/>
<circle cx="213.9" cy="335.6" r="4.1" fill="#fff" stroke="#3f3f62" stroke-width="1.1"/>
<circle cx="123.4" cy="354.6" r="4.1" fill="#fff" stroke="#3f3f62" stroke-width="1.1"/>
<circle cx="213.9" cy="354.6" r="4.1" fill="#fff" stroke="#3f3f62" stroke-width="1.1"/>
<circle cx="123.4" cy="373.6" r="4.1" fill="#fff" stroke="#3f3f62" stroke-width="1.1"/>
<circle cx="213.9" cy="373.6" r="4.1" fill="#fff" stroke="#3f3f62" stroke-width="1.1"/>
<circle cx="123.4" cy="425.8" r="4.1" fill="#fff" stroke="#3f3f62" stroke-width="1.1"/>
<circle cx="213.9" cy="425.8" r="4.1" fill="#fff" stroke="#3f3f62" stroke-width="1.1"/>
<circle cx="123.4" cy="444.8" r="4.1" fill="#fff" stroke="#3f3f62" stroke-width="1.1"/>
<circle cx="213.9" cy="444.8" r="4.1" fill="#fff" stroke="#3f3f62" stroke-width="1.1"/>
<circle cx="123.4" cy="463.7" r="4.1" fill="#fff" stroke="#3f3f62" stroke-width="1.1"/>
<circle cx="213.9" cy="463.7" r="4.1" fill="#fff" stroke="#3f3f62" stroke-width="1.1"/>
<circle cx="123.4" cy="482.6" r="4.1" fill="#fff" stroke="#3f3f62" stroke-width="1.1"/>
<circle cx="213.9" cy="482.6" r="4.1" fill="#fff" stroke="#3f3f62" stroke-width="1.1"/>
<circle cx="123.4" cy="501.6" r="4.1" fill="#fff" stroke="#3f3f62" stroke-width="1.1"/>
<circle cx="213.9" cy="501.6" r="4.1" fill="#fff" stroke="#3f3f62" stroke-width="1.1"/>
<circle cx="123.4" cy="520.5" r="4.1" fill="#fff" stroke="#3f3f62" stroke-width="1.1"/>
<circle cx="213.9" cy="520.5" r="4.1" fill="#fff" stroke="#3f3f62" stroke-width="1.1"/>
<circle cx="123.4" cy="539.5" r="4.1" fill="#fff" stroke="#3f3f62" stroke-width="1.1"/>
<circle cx="213.9" cy="539.5" r="4.1" fill="#fff" stroke="#3f3f62" stroke-width="1.1"/>
<rect x="673.3" y="12.9" width="3.8" height="547.6" fill="#3a8ff2"/>
<circle cx="652.9" cy="538.4" r="1.2" fill="#333"/>
</svg>
</body></html>
